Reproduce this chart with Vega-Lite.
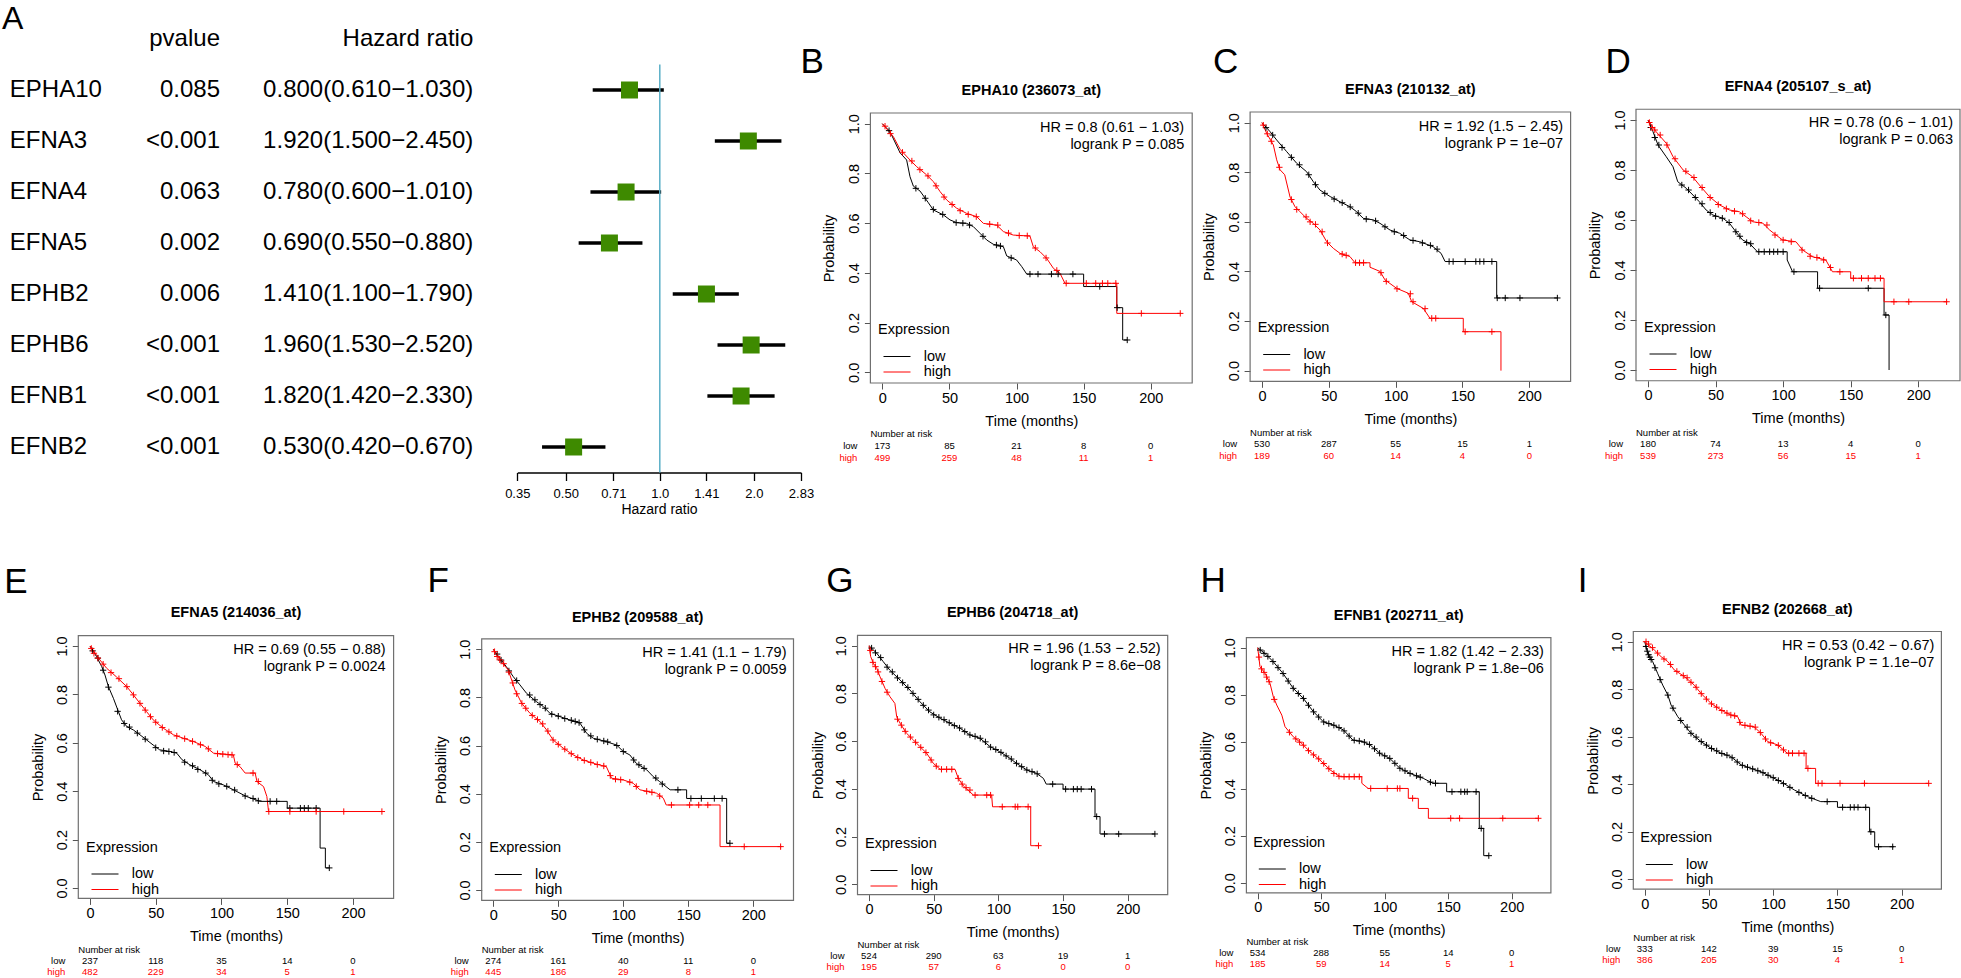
{
"$schema":"https://vega.github.io/schema/vega-lite/v6.json",
"width":1961,"height":978,"autosize":{"type":"none"},"padding":0,"background":"#ffffff",
"config":{
 "font":"Liberation Sans",
 "view":{"stroke":null},
 "axis":{"grid":false,"domain":false,"tickSize":6,"tickColor":"#555555","tickWidth":1,"labelFontSize":14.5,"titleFontSize":14.5,"titleFontWeight":"normal","labelColor":"#000000","titleColor":"#000000","labelPadding":2,"labelFlush":false,"labelOverlap":false,"labelFont":"Liberation Sans","titleFont":"Liberation Sans"},
 "legend":{"orient":"none","symbolType":"M-1.8,0H1.8","symbolSize":225,"symbolStrokeWidth":1,"symbolOffset":11,"labelOffset":18.7,"labelFontSize":14.5,"titleFontSize":14.5,"titleFontWeight":"normal","titleColor":"#000000","labelColor":"#000000","titlePadding":11,"rowPadding":0.5,"padding":0,"labelFont":"Liberation Sans","titleFont":"Liberation Sans"},
 "text":{"font":"Liberation Sans","color":"#000000"}
},
"datasets":{
 "forest":[
  {"gene":"EPHA10","pv":"0.085","ci":"0.800(0.610−1.030)","hr":0.8,"lo":0.61,"hi":1.03},
  {"gene":"EFNA3","pv":"<0.001","ci":"1.920(1.500−2.450)","hr":1.92,"lo":1.5,"hi":2.45},
  {"gene":"EFNA4","pv":"0.063","ci":"0.780(0.600−1.010)","hr":0.78,"lo":0.6,"hi":1.01},
  {"gene":"EFNA5","pv":"0.002","ci":"0.690(0.550−0.880)","hr":0.69,"lo":0.55,"hi":0.88},
  {"gene":"EPHB2","pv":"0.006","ci":"1.410(1.100−1.790)","hr":1.41,"lo":1.1,"hi":1.79},
  {"gene":"EPHB6","pv":"<0.001","ci":"1.960(1.530−2.520)","hr":1.96,"lo":1.53,"hi":2.52},
  {"gene":"EFNB1","pv":"<0.001","ci":"1.820(1.420−2.330)","hr":1.82,"lo":1.42,"hi":2.33},
  {"gene":"EFNB2","pv":"<0.001","ci":"0.530(0.420−0.670)","hr":0.53,"lo":0.42,"hi":0.67}
 ],
 "info":[
  {"p":"B","title":"EPHA10 (236073_at)","hl":["HR = 0.8 (0.61 − 1.03)","logrank P = 0.085"]},
  {"p":"C","title":"EFNA3 (210132_at)","hl":["HR = 1.92 (1.5 − 2.45)","logrank P = 1e−07"]},
  {"p":"D","title":"EFNA4 (205107_s_at)","hl":["HR = 0.78 (0.6 − 1.01)","logrank P = 0.063"]},
  {"p":"E","title":"EFNA5 (214036_at)","hl":["HR = 0.69 (0.55 − 0.88)","logrank P = 0.0024"]},
  {"p":"F","title":"EPHB2 (209588_at)","hl":["HR = 1.41 (1.1 − 1.79)","logrank P = 0.0059"]},
  {"p":"G","title":"EPHB6 (204718_at)","hl":["HR = 1.96 (1.53 − 2.52)","logrank P = 8.6e−08"]},
  {"p":"H","title":"EFNB1 (202711_at)","hl":["HR = 1.82 (1.42 − 2.33)","logrank P = 1.8e−06"]},
  {"p":"I","title":"EFNB2 (202668_at)","hl":["HR = 0.53 (0.42 − 0.67)","logrank P = 1.1e−07"]}
 ],
 "risk":[
  {"p":"B","g":"low","t":0,"n":173},{"p":"B","g":"low","t":50,"n":85},{"p":"B","g":"low","t":100,"n":21},{"p":"B","g":"low","t":150,"n":8},{"p":"B","g":"low","t":200,"n":0},
  {"p":"B","g":"high","t":0,"n":499},{"p":"B","g":"high","t":50,"n":259},{"p":"B","g":"high","t":100,"n":48},{"p":"B","g":"high","t":150,"n":11},{"p":"B","g":"high","t":200,"n":1},
  {"p":"C","g":"low","t":0,"n":530},{"p":"C","g":"low","t":50,"n":287},{"p":"C","g":"low","t":100,"n":55},{"p":"C","g":"low","t":150,"n":15},{"p":"C","g":"low","t":200,"n":1},
  {"p":"C","g":"high","t":0,"n":189},{"p":"C","g":"high","t":50,"n":60},{"p":"C","g":"high","t":100,"n":14},{"p":"C","g":"high","t":150,"n":4},{"p":"C","g":"high","t":200,"n":0},
  {"p":"D","g":"low","t":0,"n":180},{"p":"D","g":"low","t":50,"n":74},{"p":"D","g":"low","t":100,"n":13},{"p":"D","g":"low","t":150,"n":4},{"p":"D","g":"low","t":200,"n":0},
  {"p":"D","g":"high","t":0,"n":539},{"p":"D","g":"high","t":50,"n":273},{"p":"D","g":"high","t":100,"n":56},{"p":"D","g":"high","t":150,"n":15},{"p":"D","g":"high","t":200,"n":1},
  {"p":"E","g":"low","t":0,"n":237},{"p":"E","g":"low","t":50,"n":118},{"p":"E","g":"low","t":100,"n":35},{"p":"E","g":"low","t":150,"n":14},{"p":"E","g":"low","t":200,"n":0},
  {"p":"E","g":"high","t":0,"n":482},{"p":"E","g":"high","t":50,"n":229},{"p":"E","g":"high","t":100,"n":34},{"p":"E","g":"high","t":150,"n":5},{"p":"E","g":"high","t":200,"n":1},
  {"p":"F","g":"low","t":0,"n":274},{"p":"F","g":"low","t":50,"n":161},{"p":"F","g":"low","t":100,"n":40},{"p":"F","g":"low","t":150,"n":11},{"p":"F","g":"low","t":200,"n":0},
  {"p":"F","g":"high","t":0,"n":445},{"p":"F","g":"high","t":50,"n":186},{"p":"F","g":"high","t":100,"n":29},{"p":"F","g":"high","t":150,"n":8},{"p":"F","g":"high","t":200,"n":1},
  {"p":"G","g":"low","t":0,"n":524},{"p":"G","g":"low","t":50,"n":290},{"p":"G","g":"low","t":100,"n":63},{"p":"G","g":"low","t":150,"n":19},{"p":"G","g":"low","t":200,"n":1},
  {"p":"G","g":"high","t":0,"n":195},{"p":"G","g":"high","t":50,"n":57},{"p":"G","g":"high","t":100,"n":6},{"p":"G","g":"high","t":150,"n":0},{"p":"G","g":"high","t":200,"n":0},
  {"p":"H","g":"low","t":0,"n":534},{"p":"H","g":"low","t":50,"n":288},{"p":"H","g":"low","t":100,"n":55},{"p":"H","g":"low","t":150,"n":14},{"p":"H","g":"low","t":200,"n":0},
  {"p":"H","g":"high","t":0,"n":185},{"p":"H","g":"high","t":50,"n":59},{"p":"H","g":"high","t":100,"n":14},{"p":"H","g":"high","t":150,"n":5},{"p":"H","g":"high","t":200,"n":1},
  {"p":"I","g":"low","t":0,"n":333},{"p":"I","g":"low","t":50,"n":142},{"p":"I","g":"low","t":100,"n":39},{"p":"I","g":"low","t":150,"n":15},{"p":"I","g":"low","t":200,"n":0},
  {"p":"I","g":"high","t":0,"n":386},{"p":"I","g":"high","t":50,"n":205},{"p":"I","g":"high","t":100,"n":30},{"p":"I","g":"high","t":150,"n":4},{"p":"I","g":"high","t":200,"n":1}
 ],
 "km":[
  {"p":"B","g":"low","t":0,"s":1},{"p":"B","g":"low","t":5.7,"s":0.968},{"p":"B","g":"low","t":13.2,"s":0.883},{"p":"B","g":"low","t":18.1,"s":0.854},{"p":"B","g":"low","t":20.6,"s":0.787},{"p":"B","g":"low","t":23.1,"s":0.749},{"p":"B","g":"low","t":28.1,"s":0.729},{"p":"B","g":"low","t":34.3,"s":0.682},{"p":"B","g":"low","t":38,"s":0.653},{"p":"B","g":"low","t":45.5,"s":0.633},{"p":"B","g":"low","t":50.4,"s":0.613},{"p":"B","g":"low","t":55.4,"s":0.602},{"p":"B","g":"low","t":62.9,"s":0.599},{"p":"B","g":"low","t":67.8,"s":0.586},{"p":"B","g":"low","t":72.8,"s":0.559},{"p":"B","g":"low","t":77.8,"s":0.532},{"p":"B","g":"low","t":82.7,"s":0.515},{"p":"B","g":"low","t":90.2,"s":0.505},{"p":"B","g":"low","t":92.7,"s":0.468},{"p":"B","g":"low","t":100,"s":0.452},{"p":"B","g":"low","t":103.9,"s":0.425},{"p":"B","g":"low","t":107.6,"s":0.395},{"p":"B","g":"low","t":150,"s":0.395},{"p":"B","g":"low","t":150,"s":0.345},{"p":"B","g":"low","t":174.7,"s":0.345},{"p":"B","g":"low","t":174.7,"s":0.26},{"p":"B","g":"low","t":179.1,"s":0.26},{"p":"B","g":"low","t":179.1,"s":0.13},{"p":"B","g":"low","t":182.5,"s":0.13},
  {"p":"B","g":"high","t":0,"s":1},{"p":"B","g":"high","t":8.2,"s":0.948},{"p":"B","g":"high","t":13.2,"s":0.897},{"p":"B","g":"high","t":20.6,"s":0.854},{"p":"B","g":"high","t":25.6,"s":0.827},{"p":"B","g":"high","t":33,"s":0.794},{"p":"B","g":"high","t":38,"s":0.767},{"p":"B","g":"high","t":43,"s":0.727},{"p":"B","g":"high","t":48,"s":0.693},{"p":"B","g":"high","t":55.4,"s":0.66},{"p":"B","g":"high","t":62.9,"s":0.639},{"p":"B","g":"high","t":70.3,"s":0.626},{"p":"B","g":"high","t":75.3,"s":0.599},{"p":"B","g":"high","t":85.2,"s":0.592},{"p":"B","g":"high","t":90.2,"s":0.566},{"p":"B","g":"high","t":97.6,"s":0.552},{"p":"B","g":"high","t":110,"s":0.548},{"p":"B","g":"high","t":112.5,"s":0.505},{"p":"B","g":"high","t":117.5,"s":0.485},{"p":"B","g":"high","t":122.5,"s":0.458},{"p":"B","g":"high","t":127.5,"s":0.418},{"p":"B","g":"high","t":132.4,"s":0.398},{"p":"B","g":"high","t":136.1,"s":0.358},{"p":"B","g":"high","t":174.7,"s":0.358},{"p":"B","g":"high","t":174.7,"s":0.237},{"p":"B","g":"high","t":222,"s":0.237},
  {"p":"C","g":"low","t":0,"s":1},{"p":"C","g":"low","t":6,"s":0.964},{"p":"C","g":"low","t":11,"s":0.93},{"p":"C","g":"low","t":18.5,"s":0.883},{"p":"C","g":"low","t":26,"s":0.836},{"p":"C","g":"low","t":33.4,"s":0.802},{"p":"C","g":"low","t":38.4,"s":0.762},{"p":"C","g":"low","t":43.4,"s":0.728},{"p":"C","g":"low","t":51,"s":0.702},{"p":"C","g":"low","t":58.4,"s":0.681},{"p":"C","g":"low","t":65.8,"s":0.661},{"p":"C","g":"low","t":70.8,"s":0.641},{"p":"C","g":"low","t":75.8,"s":0.614},{"p":"C","g":"low","t":83.3,"s":0.608},{"p":"C","g":"low","t":88.3,"s":0.594},{"p":"C","g":"low","t":95.8,"s":0.567},{"p":"C","g":"low","t":103,"s":0.554},{"p":"C","g":"low","t":110.7,"s":0.527},{"p":"C","g":"low","t":118,"s":0.52},{"p":"C","g":"low","t":128,"s":0.5},{"p":"C","g":"low","t":134,"s":0.473},{"p":"C","g":"low","t":137,"s":0.44},{"p":"C","g":"low","t":175.6,"s":0.44},{"p":"C","g":"low","t":175.6,"s":0.293},{"p":"C","g":"low","t":221,"s":0.293},
  {"p":"C","g":"high","t":0,"s":1},{"p":"C","g":"high","t":3.5,"s":0.957},{"p":"C","g":"high","t":8.5,"s":0.91},{"p":"C","g":"high","t":11,"s":0.85},{"p":"C","g":"high","t":13.5,"s":0.81},{"p":"C","g":"high","t":17,"s":0.79},{"p":"C","g":"high","t":21,"s":0.7},{"p":"C","g":"high","t":24.7,"s":0.661},{"p":"C","g":"high","t":28.4,"s":0.641},{"p":"C","g":"high","t":33.4,"s":0.614},{"p":"C","g":"high","t":38.4,"s":0.594},{"p":"C","g":"high","t":43.4,"s":0.567},{"p":"C","g":"high","t":48.4,"s":0.52},{"p":"C","g":"high","t":53.4,"s":0.493},{"p":"C","g":"high","t":58.4,"s":0.473},{"p":"C","g":"high","t":65.8,"s":0.46},{"p":"C","g":"high","t":69.6,"s":0.435},{"p":"C","g":"high","t":80.8,"s":0.435},{"p":"C","g":"high","t":80.8,"s":0.417},{"p":"C","g":"high","t":88.3,"s":0.4},{"p":"C","g":"high","t":92,"s":0.366},{"p":"C","g":"high","t":100.7,"s":0.332},{"p":"C","g":"high","t":109.5,"s":0.312},{"p":"C","g":"high","t":112,"s":0.278},{"p":"C","g":"high","t":120.7,"s":0.251},{"p":"C","g":"high","t":125.7,"s":0.211},{"p":"C","g":"high","t":150.6,"s":0.211},{"p":"C","g":"high","t":150.6,"s":0.157},{"p":"C","g":"high","t":178.8,"s":0.157},{"p":"C","g":"high","t":178.8,"s":0},
  {"p":"D","g":"low","t":0,"s":1},{"p":"D","g":"low","t":3.7,"s":0.953},{"p":"D","g":"low","t":7.4,"s":0.9},{"p":"D","g":"low","t":13.5,"s":0.853},{"p":"D","g":"low","t":18.5,"s":0.813},{"p":"D","g":"low","t":22,"s":0.753},{"p":"D","g":"low","t":28.3,"s":0.727},{"p":"D","g":"low","t":33.2,"s":0.7},{"p":"D","g":"low","t":38,"s":0.673},{"p":"D","g":"low","t":43,"s":0.64},{"p":"D","g":"low","t":48,"s":0.62},{"p":"D","g":"low","t":55.4,"s":0.607},{"p":"D","g":"low","t":60.3,"s":0.587},{"p":"D","g":"low","t":65,"s":0.553},{"p":"D","g":"low","t":70,"s":0.52},{"p":"D","g":"low","t":75,"s":0.507},{"p":"D","g":"low","t":81,"s":0.473},{"p":"D","g":"low","t":103,"s":0.473},{"p":"D","g":"low","t":103,"s":0.44},{"p":"D","g":"low","t":107,"s":0.393},{"p":"D","g":"low","t":125.5,"s":0.393},{"p":"D","g":"low","t":125.5,"s":0.327},{"p":"D","g":"low","t":174.7,"s":0.327},{"p":"D","g":"low","t":174.7,"s":0.22},{"p":"D","g":"low","t":178.4,"s":0.22},{"p":"D","g":"low","t":178.4,"s":0},
  {"p":"D","g":"high","t":0,"s":1},{"p":"D","g":"high","t":6,"s":0.953},{"p":"D","g":"high","t":13.5,"s":0.907},{"p":"D","g":"high","t":18.5,"s":0.853},{"p":"D","g":"high","t":26,"s":0.8},{"p":"D","g":"high","t":33,"s":0.773},{"p":"D","g":"high","t":38,"s":0.74},{"p":"D","g":"high","t":45.5,"s":0.693},{"p":"D","g":"high","t":53,"s":0.66},{"p":"D","g":"high","t":60.3,"s":0.64},{"p":"D","g":"high","t":67.6,"s":0.633},{"p":"D","g":"high","t":72.6,"s":0.613},{"p":"D","g":"high","t":77.5,"s":0.593},{"p":"D","g":"high","t":85,"s":0.587},{"p":"D","g":"high","t":90,"s":0.56},{"p":"D","g":"high","t":94.7,"s":0.54},{"p":"D","g":"high","t":99.6,"s":0.52},{"p":"D","g":"high","t":109.5,"s":0.513},{"p":"D","g":"high","t":114.4,"s":0.48},{"p":"D","g":"high","t":121.8,"s":0.453},{"p":"D","g":"high","t":131.6,"s":0.44},{"p":"D","g":"high","t":136.5,"s":0.393},{"p":"D","g":"high","t":150,"s":0.393},{"p":"D","g":"high","t":150,"s":0.367},{"p":"D","g":"high","t":174.7,"s":0.367},{"p":"D","g":"high","t":174.7,"s":0.273},{"p":"D","g":"high","t":221.4,"s":0.273},
  {"p":"E","g":"low","t":0,"s":1},{"p":"E","g":"low","t":5,"s":0.956},{"p":"E","g":"low","t":8.9,"s":0.915},{"p":"E","g":"low","t":11.4,"s":0.88},{"p":"E","g":"low","t":14,"s":0.832},{"p":"E","g":"low","t":17.8,"s":0.784},{"p":"E","g":"low","t":21.6,"s":0.729},{"p":"E","g":"low","t":24,"s":0.695},{"p":"E","g":"low","t":28,"s":0.667},{"p":"E","g":"low","t":33,"s":0.653},{"p":"E","g":"low","t":38,"s":0.633},{"p":"E","g":"low","t":43,"s":0.612},{"p":"E","g":"low","t":48,"s":0.591},{"p":"E","g":"low","t":53,"s":0.571},{"p":"E","g":"low","t":61,"s":0.564},{"p":"E","g":"low","t":66,"s":0.557},{"p":"E","g":"low","t":70,"s":0.53},{"p":"E","g":"low","t":76,"s":0.509},{"p":"E","g":"low","t":83.8,"s":0.488},{"p":"E","g":"low","t":90,"s":0.468},{"p":"E","g":"low","t":94,"s":0.44},{"p":"E","g":"low","t":101.5,"s":0.426},{"p":"E","g":"low","t":109,"s":0.406},{"p":"E","g":"low","t":119,"s":0.378},{"p":"E","g":"low","t":129.4,"s":0.358},{"p":"E","g":"low","t":150,"s":0.358},{"p":"E","g":"low","t":150,"s":0.33},{"p":"E","g":"low","t":175,"s":0.33},{"p":"E","g":"low","t":175,"s":0.165},{"p":"E","g":"low","t":179,"s":0.165},{"p":"E","g":"low","t":179,"s":0.083},{"p":"E","g":"low","t":182,"s":0.083},
  {"p":"E","g":"high","t":0,"s":1},{"p":"E","g":"high","t":7.6,"s":0.942},{"p":"E","g":"high","t":12.7,"s":0.908},{"p":"E","g":"high","t":20,"s":0.873},{"p":"E","g":"high","t":28,"s":0.832},{"p":"E","g":"high","t":33,"s":0.798},{"p":"E","g":"high","t":38,"s":0.763},{"p":"E","g":"high","t":43,"s":0.729},{"p":"E","g":"high","t":48,"s":0.695},{"p":"E","g":"high","t":55.8,"s":0.66},{"p":"E","g":"high","t":63.5,"s":0.633},{"p":"E","g":"high","t":71,"s":0.619},{"p":"E","g":"high","t":78.7,"s":0.605},{"p":"E","g":"high","t":87.6,"s":0.585},{"p":"E","g":"high","t":94,"s":0.557},{"p":"E","g":"high","t":109,"s":0.55},{"p":"E","g":"high","t":110.4,"s":0.516},{"p":"E","g":"high","t":114,"s":0.502},{"p":"E","g":"high","t":118,"s":0.475},{"p":"E","g":"high","t":125.6,"s":0.475},{"p":"E","g":"high","t":127,"s":0.44},{"p":"E","g":"high","t":132,"s":0.419},{"p":"E","g":"high","t":134.5,"s":0.378},{"p":"E","g":"high","t":135.8,"s":0.316},{"p":"E","g":"high","t":222,"s":0.316},
  {"p":"F","g":"low","t":0,"s":1},{"p":"F","g":"low","t":5,"s":0.963},{"p":"F","g":"low","t":10,"s":0.928},{"p":"F","g":"low","t":15.4,"s":0.886},{"p":"F","g":"low","t":20.5,"s":0.852},{"p":"F","g":"low","t":25.6,"s":0.817},{"p":"F","g":"low","t":33,"s":0.783},{"p":"F","g":"low","t":38.5,"s":0.762},{"p":"F","g":"low","t":43.6,"s":0.734},{"p":"F","g":"low","t":51.3,"s":0.72},{"p":"F","g":"low","t":59,"s":0.706},{"p":"F","g":"low","t":66.7,"s":0.693},{"p":"F","g":"low","t":71.8,"s":0.651},{"p":"F","g":"low","t":77,"s":0.63},{"p":"F","g":"low","t":87,"s":0.616},{"p":"F","g":"low","t":94.9,"s":0.602},{"p":"F","g":"low","t":100,"s":0.575},{"p":"F","g":"low","t":105,"s":0.561},{"p":"F","g":"low","t":110,"s":0.526},{"p":"F","g":"low","t":118,"s":0.499},{"p":"F","g":"low","t":123,"s":0.471},{"p":"F","g":"low","t":128,"s":0.45},{"p":"F","g":"low","t":136,"s":0.416},{"p":"F","g":"low","t":148.7,"s":0.416},{"p":"F","g":"low","t":148.7,"s":0.38},{"p":"F","g":"low","t":179.5,"s":0.38},{"p":"F","g":"low","t":179.5,"s":0.194},{"p":"F","g":"low","t":182,"s":0.194},
  {"p":"F","g":"high","t":0,"s":1},{"p":"F","g":"high","t":5,"s":0.956},{"p":"F","g":"high","t":11.5,"s":0.914},{"p":"F","g":"high","t":16.7,"s":0.831},{"p":"F","g":"high","t":21.8,"s":0.776},{"p":"F","g":"high","t":28.2,"s":0.734},{"p":"F","g":"high","t":35.9,"s":0.7},{"p":"F","g":"high","t":41,"s":0.665},{"p":"F","g":"high","t":46,"s":0.623},{"p":"F","g":"high","t":53.8,"s":0.589},{"p":"F","g":"high","t":61.5,"s":0.561},{"p":"F","g":"high","t":69.2,"s":0.54},{"p":"F","g":"high","t":77,"s":0.526},{"p":"F","g":"high","t":87,"s":0.512},{"p":"F","g":"high","t":91,"s":0.464},{"p":"F","g":"high","t":100,"s":0.457},{"p":"F","g":"high","t":107.7,"s":0.443},{"p":"F","g":"high","t":112.8,"s":0.416},{"p":"F","g":"high","t":125.6,"s":0.402},{"p":"F","g":"high","t":130.8,"s":0.381},{"p":"F","g":"high","t":133,"s":0.353},{"p":"F","g":"high","t":174.4,"s":0.353},{"p":"F","g":"high","t":174.4,"s":0.18},{"p":"F","g":"high","t":221.8,"s":0.18},
  {"p":"G","g":"low","t":0,"s":1},{"p":"G","g":"low","t":6,"s":0.968},{"p":"G","g":"low","t":11,"s":0.933},{"p":"G","g":"low","t":16,"s":0.898},{"p":"G","g":"low","t":24,"s":0.856},{"p":"G","g":"low","t":31.7,"s":0.814},{"p":"G","g":"low","t":39.4,"s":0.765},{"p":"G","g":"low","t":47,"s":0.723},{"p":"G","g":"low","t":55,"s":0.696},{"p":"G","g":"low","t":62.6,"s":0.675},{"p":"G","g":"low","t":70.4,"s":0.654},{"p":"G","g":"low","t":78,"s":0.626},{"p":"G","g":"low","t":85.8,"s":0.612},{"p":"G","g":"low","t":93.6,"s":0.577},{"p":"G","g":"low","t":101,"s":0.556},{"p":"G","g":"low","t":109,"s":0.528},{"p":"G","g":"low","t":114,"s":0.507},{"p":"G","g":"low","t":122,"s":0.479},{"p":"G","g":"low","t":129.6,"s":0.465},{"p":"G","g":"low","t":134.8,"s":0.444},{"p":"G","g":"low","t":137,"s":0.42},{"p":"G","g":"low","t":150,"s":0.42},{"p":"G","g":"low","t":150,"s":0.399},{"p":"G","g":"low","t":174.7,"s":0.399},{"p":"G","g":"low","t":174.7,"s":0.284},{"p":"G","g":"low","t":178.6,"s":0.284},{"p":"G","g":"low","t":178.6,"s":0.211},{"p":"G","g":"low","t":221,"s":0.211},
  {"p":"G","g":"high","t":0,"s":1},{"p":"G","g":"high","t":1.3,"s":0.954},{"p":"G","g":"high","t":3.4,"s":0.926},{"p":"G","g":"high","t":6,"s":0.905},{"p":"G","g":"high","t":8.5,"s":0.87},{"p":"G","g":"high","t":12.4,"s":0.821},{"p":"G","g":"high","t":16.2,"s":0.786},{"p":"G","g":"high","t":20,"s":0.758},{"p":"G","g":"high","t":21.4,"s":0.702},{"p":"G","g":"high","t":24,"s":0.675},{"p":"G","g":"high","t":29,"s":0.633},{"p":"G","g":"high","t":34.3,"s":0.605},{"p":"G","g":"high","t":39.4,"s":0.577},{"p":"G","g":"high","t":44.6,"s":0.549},{"p":"G","g":"high","t":49.7,"s":0.507},{"p":"G","g":"high","t":55,"s":0.482},{"p":"G","g":"high","t":66.5,"s":0.482},{"p":"G","g":"high","t":69,"s":0.444},{"p":"G","g":"high","t":73,"s":0.412},{"p":"G","g":"high","t":80.7,"s":0.374},{"p":"G","g":"high","t":94.8,"s":0.374},{"p":"G","g":"high","t":95.5,"s":0.325},{"p":"G","g":"high","t":125,"s":0.325},{"p":"G","g":"high","t":125,"s":0.162},{"p":"G","g":"high","t":131,"s":0.162},
  {"p":"H","g":"low","t":0,"s":1},{"p":"H","g":"low","t":7,"s":0.969},{"p":"H","g":"low","t":12.3,"s":0.94},{"p":"H","g":"low","t":20,"s":0.89},{"p":"H","g":"low","t":28,"s":0.827},{"p":"H","g":"low","t":36,"s":0.784},{"p":"H","g":"low","t":43.8,"s":0.728},{"p":"H","g":"low","t":51.7,"s":0.685},{"p":"H","g":"low","t":59.6,"s":0.671},{"p":"H","g":"low","t":67.5,"s":0.65},{"p":"H","g":"low","t":75,"s":0.607},{"p":"H","g":"low","t":83,"s":0.6},{"p":"H","g":"low","t":88.5,"s":0.586},{"p":"H","g":"low","t":96.3,"s":0.55},{"p":"H","g":"low","t":104,"s":0.529},{"p":"H","g":"low","t":112,"s":0.487},{"p":"H","g":"low","t":120,"s":0.465},{"p":"H","g":"low","t":130.4,"s":0.444},{"p":"H","g":"low","t":138,"s":0.423},{"p":"H","g":"low","t":148.8,"s":0.423},{"p":"H","g":"low","t":148.8,"s":0.387},{"p":"H","g":"low","t":174.5,"s":0.387},{"p":"H","g":"low","t":174.5,"s":0.231},{"p":"H","g":"low","t":178,"s":0.231},{"p":"H","g":"low","t":178,"s":0.115},{"p":"H","g":"low","t":182,"s":0.115},
  {"p":"H","g":"high","t":0,"s":1},{"p":"H","g":"high","t":1.8,"s":0.919},{"p":"H","g":"high","t":5.8,"s":0.891},{"p":"H","g":"high","t":9.7,"s":0.848},{"p":"H","g":"high","t":12.3,"s":0.791},{"p":"H","g":"high","t":15,"s":0.756},{"p":"H","g":"high","t":19,"s":0.713},{"p":"H","g":"high","t":21.5,"s":0.664},{"p":"H","g":"high","t":28,"s":0.621},{"p":"H","g":"high","t":34.6,"s":0.593},{"p":"H","g":"high","t":41.2,"s":0.557},{"p":"H","g":"high","t":49,"s":0.522},{"p":"H","g":"high","t":57,"s":0.48},{"p":"H","g":"high","t":64.8,"s":0.451},{"p":"H","g":"high","t":82,"s":0.451},{"p":"H","g":"high","t":82,"s":0.423},{"p":"H","g":"high","t":87,"s":0.401},{"p":"H","g":"high","t":118.6,"s":0.401},{"p":"H","g":"high","t":118.6,"s":0.359},{"p":"H","g":"high","t":126.5,"s":0.359},{"p":"H","g":"high","t":126.5,"s":0.316},{"p":"H","g":"high","t":134.4,"s":0.316},{"p":"H","g":"high","t":134.4,"s":0.274},{"p":"H","g":"high","t":221,"s":0.274},
  {"p":"I","g":"low","t":0,"s":1},{"p":"I","g":"low","t":2.3,"s":0.951},{"p":"I","g":"low","t":6.2,"s":0.916},{"p":"I","g":"low","t":10,"s":0.867},{"p":"I","g":"low","t":14,"s":0.817},{"p":"I","g":"low","t":18,"s":0.775},{"p":"I","g":"low","t":20.5,"s":0.733},{"p":"I","g":"low","t":25.7,"s":0.684},{"p":"I","g":"low","t":30.9,"s":0.649},{"p":"I","g":"low","t":36,"s":0.614},{"p":"I","g":"low","t":43.8,"s":0.579},{"p":"I","g":"low","t":51.6,"s":0.551},{"p":"I","g":"low","t":59.4,"s":0.53},{"p":"I","g":"low","t":67,"s":0.516},{"p":"I","g":"low","t":75,"s":0.481},{"p":"I","g":"low","t":82.8,"s":0.466},{"p":"I","g":"low","t":90.5,"s":0.452},{"p":"I","g":"low","t":98.3,"s":0.431},{"p":"I","g":"low","t":106,"s":0.41},{"p":"I","g":"low","t":116.5,"s":0.375},{"p":"I","g":"low","t":126.8,"s":0.347},{"p":"I","g":"low","t":137,"s":0.326},{"p":"I","g":"low","t":150,"s":0.326},{"p":"I","g":"low","t":150,"s":0.302},{"p":"I","g":"low","t":175,"s":0.302},{"p":"I","g":"low","t":175,"s":0.199},{"p":"I","g":"low","t":179,"s":0.199},{"p":"I","g":"low","t":179,"s":0.136},{"p":"I","g":"low","t":194,"s":0.136},
  {"p":"I","g":"high","t":0,"s":1},{"p":"I","g":"high","t":7.5,"s":0.965},{"p":"I","g":"high","t":12.7,"s":0.937},{"p":"I","g":"high","t":18,"s":0.916},{"p":"I","g":"high","t":23,"s":0.881},{"p":"I","g":"high","t":31,"s":0.853},{"p":"I","g":"high","t":38.6,"s":0.817},{"p":"I","g":"high","t":43.8,"s":0.782},{"p":"I","g":"high","t":51.6,"s":0.74},{"p":"I","g":"high","t":59.4,"s":0.712},{"p":"I","g":"high","t":67,"s":0.691},{"p":"I","g":"high","t":72.4,"s":0.684},{"p":"I","g":"high","t":75,"s":0.649},{"p":"I","g":"high","t":85,"s":0.642},{"p":"I","g":"high","t":90.5,"s":0.614},{"p":"I","g":"high","t":95.7,"s":0.579},{"p":"I","g":"high","t":103.5,"s":0.565},{"p":"I","g":"high","t":111,"s":0.53},{"p":"I","g":"high","t":125.6,"s":0.53},{"p":"I","g":"high","t":125.6,"s":0.466},{"p":"I","g":"high","t":133,"s":0.466},{"p":"I","g":"high","t":133,"s":0.403},{"p":"I","g":"high","t":221,"s":0.403}
 ],
 "cens":[
  {"p":"B","g":"low","t":5,"s":0.972},{"p":"B","g":"low","t":25,"s":0.74},{"p":"B","g":"low","t":32,"s":0.7},{"p":"B","g":"low","t":38,"s":0.655},{"p":"B","g":"low","t":45,"s":0.635},{"p":"B","g":"low","t":55,"s":0.602},{"p":"B","g":"low","t":60,"s":0.6},{"p":"B","g":"low","t":65,"s":0.592},{"p":"B","g":"low","t":75,"s":0.547},{"p":"B","g":"low","t":85,"s":0.512},{"p":"B","g":"low","t":88,"s":0.508},{"p":"B","g":"low","t":96,"s":0.46},{"p":"B","g":"low","t":110,"s":0.395},{"p":"B","g":"low","t":116,"s":0.395},{"p":"B","g":"low","t":126,"s":0.395},{"p":"B","g":"low","t":131,"s":0.395},{"p":"B","g":"low","t":142,"s":0.395},{"p":"B","g":"low","t":162,"s":0.345},{"p":"B","g":"low","t":175,"s":0.26},{"p":"B","g":"low","t":182.5,"s":0.13},
  {"p":"B","g":"high","t":2,"s":0.99},{"p":"B","g":"high","t":6,"s":0.96},{"p":"B","g":"high","t":15,"s":0.885},{"p":"B","g":"high","t":22,"s":0.85},{"p":"B","g":"high","t":28,"s":0.815},{"p":"B","g":"high","t":34,"s":0.79},{"p":"B","g":"high","t":40,"s":0.75},{"p":"B","g":"high","t":46,"s":0.705},{"p":"B","g":"high","t":52,"s":0.675},{"p":"B","g":"high","t":58,"s":0.65},{"p":"B","g":"high","t":64,"s":0.635},{"p":"B","g":"high","t":70,"s":0.626},{"p":"B","g":"high","t":80,"s":0.596},{"p":"B","g":"high","t":86,"s":0.592},{"p":"B","g":"high","t":94,"s":0.56},{"p":"B","g":"high","t":102,"s":0.55},{"p":"B","g":"high","t":108,"s":0.549},{"p":"B","g":"high","t":114,"s":0.5},{"p":"B","g":"high","t":122,"s":0.46},{"p":"B","g":"high","t":130,"s":0.41},{"p":"B","g":"high","t":137,"s":0.358},{"p":"B","g":"high","t":152,"s":0.358},{"p":"B","g":"high","t":159,"s":0.358},{"p":"B","g":"high","t":164,"s":0.358},{"p":"B","g":"high","t":168,"s":0.358},{"p":"B","g":"high","t":174,"s":0.358},{"p":"B","g":"high","t":193,"s":0.237},{"p":"B","g":"high","t":222,"s":0.237},
  {"p":"C","g":"low","t":3,"s":0.98},{"p":"C","g":"low","t":8,"s":0.95},{"p":"C","g":"low","t":15,"s":0.9},{"p":"C","g":"low","t":22,"s":0.86},{"p":"C","g":"low","t":28,"s":0.83},{"p":"C","g":"low","t":35,"s":0.79},{"p":"C","g":"low","t":40,"s":0.75},{"p":"C","g":"low","t":47,"s":0.715},{"p":"C","g":"low","t":54,"s":0.692},{"p":"C","g":"low","t":60,"s":0.677},{"p":"C","g":"low","t":66,"s":0.66},{"p":"C","g":"low","t":72,"s":0.635},{"p":"C","g":"low","t":78,"s":0.611},{"p":"C","g":"low","t":85,"s":0.604},{"p":"C","g":"low","t":92,"s":0.58},{"p":"C","g":"low","t":99,"s":0.56},{"p":"C","g":"low","t":106,"s":0.545},{"p":"C","g":"low","t":113,"s":0.525},{"p":"C","g":"low","t":120,"s":0.515},{"p":"C","g":"low","t":126,"s":0.505},{"p":"C","g":"low","t":131,"s":0.49},{"p":"C","g":"low","t":140,"s":0.44},{"p":"C","g":"low","t":143,"s":0.44},{"p":"C","g":"low","t":152,"s":0.44},{"p":"C","g":"low","t":160,"s":0.44},{"p":"C","g":"low","t":163,"s":0.44},{"p":"C","g":"low","t":166,"s":0.44},{"p":"C","g":"low","t":172,"s":0.44},{"p":"C","g":"low","t":176,"s":0.293},{"p":"C","g":"low","t":182,"s":0.293},{"p":"C","g":"low","t":193,"s":0.293},{"p":"C","g":"low","t":221,"s":0.293},
  {"p":"C","g":"high","t":1,"s":0.99},{"p":"C","g":"high","t":4,"s":0.955},{"p":"C","g":"high","t":7,"s":0.925},{"p":"C","g":"high","t":13,"s":0.82},{"p":"C","g":"high","t":22,"s":0.69},{"p":"C","g":"high","t":26,"s":0.65},{"p":"C","g":"high","t":33,"s":0.62},{"p":"C","g":"high","t":36,"s":0.6},{"p":"C","g":"high","t":40,"s":0.59},{"p":"C","g":"high","t":45,"s":0.56},{"p":"C","g":"high","t":49,"s":0.515},{"p":"C","g":"high","t":60,"s":0.47},{"p":"C","g":"high","t":63,"s":0.465},{"p":"C","g":"high","t":70,"s":0.435},{"p":"C","g":"high","t":73,"s":0.435},{"p":"C","g":"high","t":76,"s":0.435},{"p":"C","g":"high","t":89,"s":0.395},{"p":"C","g":"high","t":93,"s":0.36},{"p":"C","g":"high","t":101,"s":0.33},{"p":"C","g":"high","t":111,"s":0.31},{"p":"C","g":"high","t":113,"s":0.278},{"p":"C","g":"high","t":122,"s":0.25},{"p":"C","g":"high","t":127,"s":0.211},{"p":"C","g":"high","t":130,"s":0.211},{"p":"C","g":"high","t":152,"s":0.157},{"p":"C","g":"high","t":172,"s":0.157},
  {"p":"D","g":"low","t":2,"s":0.97},{"p":"D","g":"low","t":5,"s":0.93},{"p":"D","g":"low","t":8,"s":0.9},{"p":"D","g":"low","t":25,"s":0.74},{"p":"D","g":"low","t":30,"s":0.72},{"p":"D","g":"low","t":35,"s":0.69},{"p":"D","g":"low","t":40,"s":0.665},{"p":"D","g":"low","t":46,"s":0.63},{"p":"D","g":"low","t":50,"s":0.615},{"p":"D","g":"low","t":55,"s":0.607},{"p":"D","g":"low","t":60,"s":0.59},{"p":"D","g":"low","t":65,"s":0.553},{"p":"D","g":"low","t":68,"s":0.535},{"p":"D","g":"low","t":73,"s":0.51},{"p":"D","g":"low","t":76,"s":0.505},{"p":"D","g":"low","t":82,"s":0.473},{"p":"D","g":"low","t":86,"s":0.473},{"p":"D","g":"low","t":90,"s":0.473},{"p":"D","g":"low","t":93,"s":0.473},{"p":"D","g":"low","t":96,"s":0.473},{"p":"D","g":"low","t":100,"s":0.473},{"p":"D","g":"low","t":108,"s":0.393},{"p":"D","g":"low","t":127,"s":0.327},{"p":"D","g":"low","t":163,"s":0.327},{"p":"D","g":"low","t":176,"s":0.22},
  {"p":"D","g":"high","t":1,"s":0.99},{"p":"D","g":"high","t":3,"s":0.97},{"p":"D","g":"high","t":5,"s":0.96},{"p":"D","g":"high","t":9,"s":0.94},{"p":"D","g":"high","t":14,"s":0.9},{"p":"D","g":"high","t":20,"s":0.845},{"p":"D","g":"high","t":28,"s":0.795},{"p":"D","g":"high","t":34,"s":0.77},{"p":"D","g":"high","t":40,"s":0.73},{"p":"D","g":"high","t":46,"s":0.69},{"p":"D","g":"high","t":52,"s":0.662},{"p":"D","g":"high","t":58,"s":0.645},{"p":"D","g":"high","t":64,"s":0.635},{"p":"D","g":"high","t":70,"s":0.625},{"p":"D","g":"high","t":76,"s":0.597},{"p":"D","g":"high","t":82,"s":0.59},{"p":"D","g":"high","t":88,"s":0.58},{"p":"D","g":"high","t":94,"s":0.54},{"p":"D","g":"high","t":100,"s":0.52},{"p":"D","g":"high","t":106,"s":0.513},{"p":"D","g":"high","t":114,"s":0.48},{"p":"D","g":"high","t":120,"s":0.455},{"p":"D","g":"high","t":125,"s":0.45},{"p":"D","g":"high","t":130,"s":0.44},{"p":"D","g":"high","t":135,"s":0.41},{"p":"D","g":"high","t":142,"s":0.393},{"p":"D","g":"high","t":152,"s":0.367},{"p":"D","g":"high","t":158,"s":0.367},{"p":"D","g":"high","t":163,"s":0.367},{"p":"D","g":"high","t":168,"s":0.367},{"p":"D","g":"high","t":172,"s":0.367},{"p":"D","g":"high","t":182,"s":0.273},{"p":"D","g":"high","t":193,"s":0.273},{"p":"D","g":"high","t":221,"s":0.273},
  {"p":"E","g":"low","t":2,"s":0.98},{"p":"E","g":"low","t":6,"s":0.95},{"p":"E","g":"low","t":10,"s":0.9},{"p":"E","g":"low","t":14,"s":0.83},{"p":"E","g":"low","t":21,"s":0.73},{"p":"E","g":"low","t":26,"s":0.68},{"p":"E","g":"low","t":30,"s":0.665},{"p":"E","g":"low","t":36,"s":0.64},{"p":"E","g":"low","t":42,"s":0.615},{"p":"E","g":"low","t":50,"s":0.58},{"p":"E","g":"low","t":56,"s":0.566},{"p":"E","g":"low","t":60,"s":0.564},{"p":"E","g":"low","t":64,"s":0.56},{"p":"E","g":"low","t":72,"s":0.52},{"p":"E","g":"low","t":78,"s":0.505},{"p":"E","g":"low","t":82,"s":0.49},{"p":"E","g":"low","t":88,"s":0.475},{"p":"E","g":"low","t":93,"s":0.445},{"p":"E","g":"low","t":98,"s":0.43},{"p":"E","g":"low","t":104,"s":0.42},{"p":"E","g":"low","t":110,"s":0.405},{"p":"E","g":"low","t":118,"s":0.38},{"p":"E","g":"low","t":124,"s":0.37},{"p":"E","g":"low","t":128,"s":0.36},{"p":"E","g":"low","t":137,"s":0.358},{"p":"E","g":"low","t":142,"s":0.358},{"p":"E","g":"low","t":152,"s":0.33},{"p":"E","g":"low","t":160,"s":0.33},{"p":"E","g":"low","t":163,"s":0.33},{"p":"E","g":"low","t":166,"s":0.33},{"p":"E","g":"low","t":172,"s":0.33},{"p":"E","g":"low","t":182,"s":0.083},
  {"p":"E","g":"high","t":1,"s":0.99},{"p":"E","g":"high","t":3,"s":0.97},{"p":"E","g":"high","t":6,"s":0.95},{"p":"E","g":"high","t":10,"s":0.925},{"p":"E","g":"high","t":16,"s":0.89},{"p":"E","g":"high","t":22,"s":0.865},{"p":"E","g":"high","t":28,"s":0.832},{"p":"E","g":"high","t":33,"s":0.798},{"p":"E","g":"high","t":38,"s":0.763},{"p":"E","g":"high","t":42,"s":0.735},{"p":"E","g":"high","t":46,"s":0.708},{"p":"E","g":"high","t":50,"s":0.685},{"p":"E","g":"high","t":55,"s":0.663},{"p":"E","g":"high","t":60,"s":0.645},{"p":"E","g":"high","t":66,"s":0.628},{"p":"E","g":"high","t":72,"s":0.617},{"p":"E","g":"high","t":78,"s":0.606},{"p":"E","g":"high","t":84,"s":0.592},{"p":"E","g":"high","t":90,"s":0.575},{"p":"E","g":"high","t":97,"s":0.555},{"p":"E","g":"high","t":101,"s":0.553},{"p":"E","g":"high","t":105,"s":0.551},{"p":"E","g":"high","t":108,"s":0.55},{"p":"E","g":"high","t":112,"s":0.51},{"p":"E","g":"high","t":124,"s":0.475},{"p":"E","g":"high","t":128,"s":0.44},{"p":"E","g":"high","t":136,"s":0.316},{"p":"E","g":"high","t":152,"s":0.316},{"p":"E","g":"high","t":172,"s":0.316},{"p":"E","g":"high","t":193,"s":0.316},{"p":"E","g":"high","t":222,"s":0.316},
  {"p":"F","g":"low","t":3,"s":0.98},{"p":"F","g":"low","t":6,"s":0.955},{"p":"F","g":"low","t":12,"s":0.91},{"p":"F","g":"low","t":18,"s":0.87},{"p":"F","g":"low","t":28,"s":0.81},{"p":"F","g":"low","t":32,"s":0.79},{"p":"F","g":"low","t":36,"s":0.77},{"p":"F","g":"low","t":40,"s":0.755},{"p":"F","g":"low","t":45,"s":0.73},{"p":"F","g":"low","t":50,"s":0.722},{"p":"F","g":"low","t":55,"s":0.712},{"p":"F","g":"low","t":60,"s":0.705},{"p":"F","g":"low","t":63,"s":0.7},{"p":"F","g":"low","t":66,"s":0.695},{"p":"F","g":"low","t":70,"s":0.665},{"p":"F","g":"low","t":75,"s":0.64},{"p":"F","g":"low","t":80,"s":0.626},{"p":"F","g":"low","t":85,"s":0.619},{"p":"F","g":"low","t":88,"s":0.615},{"p":"F","g":"low","t":95,"s":0.6},{"p":"F","g":"low","t":100,"s":0.575},{"p":"F","g":"low","t":108,"s":0.54},{"p":"F","g":"low","t":112,"s":0.52},{"p":"F","g":"low","t":116,"s":0.505},{"p":"F","g":"low","t":125,"s":0.465},{"p":"F","g":"low","t":130,"s":0.44},{"p":"F","g":"low","t":142,"s":0.416},{"p":"F","g":"low","t":152,"s":0.38},{"p":"F","g":"low","t":160,"s":0.38},{"p":"F","g":"low","t":170,"s":0.38},{"p":"F","g":"low","t":176,"s":0.38},{"p":"F","g":"low","t":182,"s":0.194},
  {"p":"F","g":"high","t":1,"s":0.99},{"p":"F","g":"high","t":3,"s":0.97},{"p":"F","g":"high","t":5,"s":0.956},{"p":"F","g":"high","t":8,"s":0.94},{"p":"F","g":"high","t":12,"s":0.905},{"p":"F","g":"high","t":15,"s":0.86},{"p":"F","g":"high","t":18,"s":0.815},{"p":"F","g":"high","t":22,"s":0.775},{"p":"F","g":"high","t":25,"s":0.755},{"p":"F","g":"high","t":30,"s":0.725},{"p":"F","g":"high","t":34,"s":0.708},{"p":"F","g":"high","t":38,"s":0.69},{"p":"F","g":"high","t":42,"s":0.66},{"p":"F","g":"high","t":46,"s":0.623},{"p":"F","g":"high","t":50,"s":0.605},{"p":"F","g":"high","t":55,"s":0.585},{"p":"F","g":"high","t":60,"s":0.566},{"p":"F","g":"high","t":65,"s":0.55},{"p":"F","g":"high","t":70,"s":0.538},{"p":"F","g":"high","t":75,"s":0.53},{"p":"F","g":"high","t":80,"s":0.521},{"p":"F","g":"high","t":85,"s":0.515},{"p":"F","g":"high","t":90,"s":0.475},{"p":"F","g":"high","t":94,"s":0.46},{"p":"F","g":"high","t":98,"s":0.458},{"p":"F","g":"high","t":105,"s":0.448},{"p":"F","g":"high","t":110,"s":0.43},{"p":"F","g":"high","t":118,"s":0.41},{"p":"F","g":"high","t":122,"s":0.406},{"p":"F","g":"high","t":128,"s":0.39},{"p":"F","g":"high","t":137,"s":0.353},{"p":"F","g":"high","t":151,"s":0.353},{"p":"F","g":"high","t":158,"s":0.353},{"p":"F","g":"high","t":165,"s":0.353},{"p":"F","g":"high","t":193,"s":0.18},{"p":"F","g":"high","t":221,"s":0.18},
  {"p":"G","g":"low","t":2,"s":0.99},{"p":"G","g":"low","t":5,"s":0.97},{"p":"G","g":"low","t":9,"s":0.95},{"p":"G","g":"low","t":14,"s":0.91},{"p":"G","g":"low","t":18,"s":0.89},{"p":"G","g":"low","t":22,"s":0.865},{"p":"G","g":"low","t":26,"s":0.845},{"p":"G","g":"low","t":30,"s":0.825},{"p":"G","g":"low","t":34,"s":0.8},{"p":"G","g":"low","t":38,"s":0.775},{"p":"G","g":"low","t":42,"s":0.75},{"p":"G","g":"low","t":46,"s":0.73},{"p":"G","g":"low","t":50,"s":0.71},{"p":"G","g":"low","t":54,"s":0.7},{"p":"G","g":"low","t":58,"s":0.69},{"p":"G","g":"low","t":62,"s":0.677},{"p":"G","g":"low","t":66,"s":0.665},{"p":"G","g":"low","t":70,"s":0.655},{"p":"G","g":"low","t":74,"s":0.64},{"p":"G","g":"low","t":78,"s":0.626},{"p":"G","g":"low","t":82,"s":0.62},{"p":"G","g":"low","t":86,"s":0.612},{"p":"G","g":"low","t":90,"s":0.597},{"p":"G","g":"low","t":94,"s":0.575},{"p":"G","g":"low","t":98,"s":0.565},{"p":"G","g":"low","t":102,"s":0.553},{"p":"G","g":"low","t":106,"s":0.538},{"p":"G","g":"low","t":110,"s":0.525},{"p":"G","g":"low","t":114,"s":0.507},{"p":"G","g":"low","t":118,"s":0.493},{"p":"G","g":"low","t":122,"s":0.479},{"p":"G","g":"low","t":126,"s":0.472},{"p":"G","g":"low","t":130,"s":0.463},{"p":"G","g":"low","t":142,"s":0.42},{"p":"G","g":"low","t":152,"s":0.399},{"p":"G","g":"low","t":158,"s":0.399},{"p":"G","g":"low","t":161,"s":0.399},{"p":"G","g":"low","t":164,"s":0.399},{"p":"G","g":"low","t":172,"s":0.399},{"p":"G","g":"low","t":176,"s":0.284},{"p":"G","g":"low","t":182,"s":0.211},{"p":"G","g":"low","t":193,"s":0.211},{"p":"G","g":"low","t":221,"s":0.211},
  {"p":"G","g":"high","t":1,"s":0.98},{"p":"G","g":"high","t":3,"s":0.93},{"p":"G","g":"high","t":5,"s":0.912},{"p":"G","g":"high","t":7,"s":0.89},{"p":"G","g":"high","t":10,"s":0.85},{"p":"G","g":"high","t":14,"s":0.805},{"p":"G","g":"high","t":22,"s":0.692},{"p":"G","g":"high","t":25,"s":0.667},{"p":"G","g":"high","t":28,"s":0.641},{"p":"G","g":"high","t":32,"s":0.617},{"p":"G","g":"high","t":36,"s":0.595},{"p":"G","g":"high","t":40,"s":0.574},{"p":"G","g":"high","t":44,"s":0.552},{"p":"G","g":"high","t":48,"s":0.521},{"p":"G","g":"high","t":52,"s":0.495},{"p":"G","g":"high","t":56,"s":0.482},{"p":"G","g":"high","t":60,"s":0.482},{"p":"G","g":"high","t":64,"s":0.482},{"p":"G","g":"high","t":69,"s":0.444},{"p":"G","g":"high","t":72,"s":0.42},{"p":"G","g":"high","t":75,"s":0.405},{"p":"G","g":"high","t":78,"s":0.395},{"p":"G","g":"high","t":82,"s":0.374},{"p":"G","g":"high","t":91,"s":0.374},{"p":"G","g":"high","t":94,"s":0.374},{"p":"G","g":"high","t":103,"s":0.325},{"p":"G","g":"high","t":113,"s":0.325},{"p":"G","g":"high","t":115,"s":0.325},{"p":"G","g":"high","t":123,"s":0.325},{"p":"G","g":"high","t":131,"s":0.162},
  {"p":"H","g":"low","t":2,"s":0.99},{"p":"H","g":"low","t":5,"s":0.976},{"p":"H","g":"low","t":8,"s":0.963},{"p":"H","g":"low","t":12,"s":0.941},{"p":"H","g":"low","t":16,"s":0.915},{"p":"H","g":"low","t":20,"s":0.89},{"p":"H","g":"low","t":24,"s":0.858},{"p":"H","g":"low","t":28,"s":0.827},{"p":"H","g":"low","t":32,"s":0.805},{"p":"H","g":"low","t":36,"s":0.784},{"p":"H","g":"low","t":40,"s":0.755},{"p":"H","g":"low","t":44,"s":0.727},{"p":"H","g":"low","t":48,"s":0.705},{"p":"H","g":"low","t":52,"s":0.684},{"p":"H","g":"low","t":56,"s":0.677},{"p":"H","g":"low","t":60,"s":0.67},{"p":"H","g":"low","t":64,"s":0.66},{"p":"H","g":"low","t":68,"s":0.646},{"p":"H","g":"low","t":72,"s":0.624},{"p":"H","g":"low","t":76,"s":0.606},{"p":"H","g":"low","t":80,"s":0.603},{"p":"H","g":"low","t":84,"s":0.598},{"p":"H","g":"low","t":88,"s":0.588},{"p":"H","g":"low","t":92,"s":0.57},{"p":"H","g":"low","t":96,"s":0.551},{"p":"H","g":"low","t":100,"s":0.54},{"p":"H","g":"low","t":104,"s":0.529},{"p":"H","g":"low","t":108,"s":0.508},{"p":"H","g":"low","t":112,"s":0.487},{"p":"H","g":"low","t":116,"s":0.476},{"p":"H","g":"low","t":120,"s":0.465},{"p":"H","g":"low","t":125,"s":0.455},{"p":"H","g":"low","t":128,"s":0.449},{"p":"H","g":"low","t":136,"s":0.428},{"p":"H","g":"low","t":140,"s":0.423},{"p":"H","g":"low","t":153,"s":0.387},{"p":"H","g":"low","t":160,"s":0.387},{"p":"H","g":"low","t":163,"s":0.387},{"p":"H","g":"low","t":165,"s":0.387},{"p":"H","g":"low","t":172,"s":0.387},{"p":"H","g":"low","t":176,"s":0.231},{"p":"H","g":"low","t":182,"s":0.115},
  {"p":"H","g":"high","t":1,"s":0.96},{"p":"H","g":"high","t":3,"s":0.91},{"p":"H","g":"high","t":5,"s":0.895},{"p":"H","g":"high","t":7,"s":0.875},{"p":"H","g":"high","t":9,"s":0.855},{"p":"H","g":"high","t":13,"s":0.78},{"p":"H","g":"high","t":25,"s":0.64},{"p":"H","g":"high","t":30,"s":0.612},{"p":"H","g":"high","t":33,"s":0.598},{"p":"H","g":"high","t":36,"s":0.585},{"p":"H","g":"high","t":40,"s":0.562},{"p":"H","g":"high","t":44,"s":0.544},{"p":"H","g":"high","t":48,"s":0.527},{"p":"H","g":"high","t":52,"s":0.507},{"p":"H","g":"high","t":56,"s":0.485},{"p":"H","g":"high","t":60,"s":0.465},{"p":"H","g":"high","t":64,"s":0.453},{"p":"H","g":"high","t":68,"s":0.451},{"p":"H","g":"high","t":72,"s":0.451},{"p":"H","g":"high","t":76,"s":0.451},{"p":"H","g":"high","t":80,"s":0.451},{"p":"H","g":"high","t":89,"s":0.401},{"p":"H","g":"high","t":102,"s":0.401},{"p":"H","g":"high","t":110,"s":0.401},{"p":"H","g":"high","t":112,"s":0.401},{"p":"H","g":"high","t":122,"s":0.359},{"p":"H","g":"high","t":152,"s":0.274},{"p":"H","g":"high","t":159,"s":0.274},{"p":"H","g":"high","t":193,"s":0.274},{"p":"H","g":"high","t":221,"s":0.274},
  {"p":"I","g":"low","t":1,"s":0.98},{"p":"I","g":"low","t":2,"s":0.96},{"p":"I","g":"low","t":3,"s":0.945},{"p":"I","g":"low","t":4,"s":0.935},{"p":"I","g":"low","t":5,"s":0.925},{"p":"I","g":"low","t":8,"s":0.89},{"p":"I","g":"low","t":12,"s":0.84},{"p":"I","g":"low","t":18,"s":0.775},{"p":"I","g":"low","t":22,"s":0.72},{"p":"I","g":"low","t":28,"s":0.668},{"p":"I","g":"low","t":33,"s":0.64},{"p":"I","g":"low","t":36,"s":0.614},{"p":"I","g":"low","t":40,"s":0.598},{"p":"I","g":"low","t":44,"s":0.579},{"p":"I","g":"low","t":48,"s":0.564},{"p":"I","g":"low","t":52,"s":0.55},{"p":"I","g":"low","t":56,"s":0.54},{"p":"I","g":"low","t":60,"s":0.529},{"p":"I","g":"low","t":64,"s":0.522},{"p":"I","g":"low","t":68,"s":0.511},{"p":"I","g":"low","t":72,"s":0.493},{"p":"I","g":"low","t":76,"s":0.479},{"p":"I","g":"low","t":80,"s":0.471},{"p":"I","g":"low","t":84,"s":0.464},{"p":"I","g":"low","t":88,"s":0.456},{"p":"I","g":"low","t":92,"s":0.448},{"p":"I","g":"low","t":96,"s":0.437},{"p":"I","g":"low","t":100,"s":0.427},{"p":"I","g":"low","t":104,"s":0.415},{"p":"I","g":"low","t":108,"s":0.402},{"p":"I","g":"low","t":113,"s":0.386},{"p":"I","g":"low","t":120,"s":0.365},{"p":"I","g":"low","t":125,"s":0.352},{"p":"I","g":"low","t":130,"s":0.34},{"p":"I","g":"low","t":142,"s":0.326},{"p":"I","g":"low","t":154,"s":0.302},{"p":"I","g":"low","t":160,"s":0.302},{"p":"I","g":"low","t":163,"s":0.302},{"p":"I","g":"low","t":166,"s":0.302},{"p":"I","g":"low","t":172,"s":0.302},{"p":"I","g":"low","t":176,"s":0.199},{"p":"I","g":"low","t":182,"s":0.136},{"p":"I","g":"low","t":193,"s":0.136},
  {"p":"I","g":"high","t":1,"s":1},{"p":"I","g":"high","t":3,"s":0.99},{"p":"I","g":"high","t":6,"s":0.975},{"p":"I","g":"high","t":10,"s":0.952},{"p":"I","g":"high","t":15,"s":0.927},{"p":"I","g":"high","t":20,"s":0.904},{"p":"I","g":"high","t":25,"s":0.875},{"p":"I","g":"high","t":30,"s":0.857},{"p":"I","g":"high","t":33,"s":0.848},{"p":"I","g":"high","t":36,"s":0.829},{"p":"I","g":"high","t":40,"s":0.808},{"p":"I","g":"high","t":44,"s":0.781},{"p":"I","g":"high","t":48,"s":0.758},{"p":"I","g":"high","t":52,"s":0.738},{"p":"I","g":"high","t":56,"s":0.724},{"p":"I","g":"high","t":60,"s":0.71},{"p":"I","g":"high","t":64,"s":0.699},{"p":"I","g":"high","t":67,"s":0.691},{"p":"I","g":"high","t":70,"s":0.688},{"p":"I","g":"high","t":74,"s":0.66},{"p":"I","g":"high","t":78,"s":0.648},{"p":"I","g":"high","t":82,"s":0.644},{"p":"I","g":"high","t":86,"s":0.64},{"p":"I","g":"high","t":90,"s":0.617},{"p":"I","g":"high","t":94,"s":0.59},{"p":"I","g":"high","t":98,"s":0.574},{"p":"I","g":"high","t":104,"s":0.563},{"p":"I","g":"high","t":108,"s":0.544},{"p":"I","g":"high","t":112,"s":0.53},{"p":"I","g":"high","t":115,"s":0.53},{"p":"I","g":"high","t":120,"s":0.53},{"p":"I","g":"high","t":124,"s":0.53},{"p":"I","g":"high","t":127,"s":0.466},{"p":"I","g":"high","t":135,"s":0.403},{"p":"I","g":"high","t":138,"s":0.403},{"p":"I","g":"high","t":152,"s":0.403},{"p":"I","g":"high","t":171,"s":0.403},{"p":"I","g":"high","t":221,"s":0.403}
 ]
},
"layer":[
 {"layer":[
  {"data":{"name":"forest"},"mark":{"type":"rule","strokeWidth":3.3,"color":"#000000"},
   "encoding":{
    "x":{"field":"lo","type":"quantitative","scale":{"type":"log","domain":[0.35,2.83],"range":[517.3,801],"nice":false},
     "axis":{"orient":"bottom","offset":-505.5,"values":[0.35,0.5,0.71,1,1.41,2,2.83],"labelExpr":"datum.value == 1 ? '1.0' : datum.value == 2 ? '2.0' : format(datum.value, '.2f')","domain":true,"domainColor":"#000000","domainWidth":1.3,"tickSize":8,"tickColor":"#000000","tickWidth":1.3,"labelFontSize":13,"labelPadding":7,"title":"Hazard ratio","titleFontSize":14,"titleX":659,"titleY":37,"titleAlign":"center","titleBaseline":"middle"}},
    "x2":{"field":"hi"},
    "y":{"field":"gene","type":"nominal","scale":{"type":"band","domain":["hdr","EPHA10","EFNA3","EFNA4","EFNA5","EPHB2","EPHB6","EFNB1","EFNB2"],"range":[13.5,472.5],"paddingInner":0,"paddingOuter":0},"axis":null}}},
  {"data":{"values":[{}]},"mark":{"type":"rule","color":"#5AAFC7","strokeWidth":1.5,"yOffset":-25.5,"y2Offset":25.5},
   "encoding":{"x":{"datum":1,"type":"quantitative"},"y":{"datum":"EPHA10","type":"nominal"},"y2":{"datum":"EFNB2"}}},
  {"data":{"name":"forest"},"mark":{"type":"square","size":289,"color":"#3E8A00","opacity":1,"filled":true},
   "encoding":{"x":{"field":"hr","type":"quantitative"},"y":{"field":"gene","type":"nominal"}}},
  {"data":{"name":"forest"},"mark":{"type":"text","fontSize":24,"align":"left","baseline":"middle","dx":-507.5},
   "encoding":{"x":{"datum":0.35,"type":"quantitative"},"y":{"field":"gene","type":"nominal"},"text":{"field":"gene"}}},
  {"data":{"name":"forest"},"mark":{"type":"text","fontSize":24,"align":"right","baseline":"middle","dx":-297.3},
   "encoding":{"x":{"datum":0.35,"type":"quantitative"},"y":{"field":"gene","type":"nominal"},"text":{"field":"pv"}}},
  {"data":{"name":"forest"},"mark":{"type":"text","fontSize":24,"align":"right","baseline":"middle","dx":-44},
   "encoding":{"x":{"datum":0.35,"type":"quantitative"},"y":{"field":"gene","type":"nominal"},"text":{"field":"ci"}}},
  {"data":{"values":[{"gene":"hdr"}]},"mark":{"type":"text","fontSize":24,"align":"right","baseline":"middle","dx":-297.3},
   "encoding":{"x":{"datum":0.35,"type":"quantitative"},"y":{"field":"gene","type":"nominal"},"text":{"value":"pvalue"}}},
  {"data":{"values":[{"gene":"hdr"}]},"mark":{"type":"text","fontSize":24,"align":"right","baseline":"middle","dx":-44},
   "encoding":{"x":{"datum":0.35,"type":"quantitative"},"y":{"field":"gene","type":"nominal"},"text":{"value":"Hazard ratio"}}},
  {"data":{"values":[{"gene":"hdr"}]},"mark":{"type":"text","fontSize":32,"align":"left","baseline":"alphabetic","dx":-515.3,"dy":-10},
   "encoding":{"x":{"datum":0.35,"type":"quantitative"},"y":{"field":"gene","type":"nominal"},"text":{"value":"A"}}}
 ]},
 {"layer":[
  {"layer":[
   {"data":{"values":[{}]},"mark":{"type":"rect","fill":null,"stroke":"#707070","strokeWidth":1.2},"encoding":{"x":{"datum":-8.9,"type":"quantitative"},"x2":{"datum":230.9},"y":{"datum":-0.043,"type":"quantitative"},"y2":{"datum":1.043}}},
   {"data":{"name":"km"},"transform":[{"filter":"datum.p=='B'"}],"mark":{"type":"line","strokeWidth":1},"encoding":{
     "x":{"field":"t","type":"quantitative","scale":{"domain":[-8.9,230.9],"range":[870.4,1192.2],"nice":false,"zero":false},"axis":{"orient":"bottom","offset":-595,"values":[0,50,100,150,200],"title":"Time (months)","titleX":1031.3,"titleY":38,"titleAlign":"center","titleBaseline":"middle"}},
     "y":{"field":"s","type":"quantitative","scale":{"domain":[-0.043,1.043],"range":[383,113],"nice":false,"zero":false},"axis":{"orient":"left","offset":-870.4,"values":[0,0.2,0.4,0.6,0.8,1],"format":".1f","labelAngle":270,"labelAlign":"center","labelBaseline":"bottom","labelPadding":3,"title":"Probability","titleAngle":270,"titleX":-41,"titleY":248,"titleAlign":"center","titleBaseline":"middle"}},
     "color":{"field":"g","type":"nominal","scale":{"domain":["low","high"],"range":["#000000","#ff0000"]},"legend":{"title":"Expression","orient":"none","legendX":878,"legendY":323}},
     "order":{"value":null}}},
   {"data":{"name":"cens"},"transform":[{"filter":"datum.p=='B'"}],"mark":{"type":"point","shape":"M-1,0H1M0,-1V1","size":40,"strokeWidth":1,"filled":false,"opacity":1},"encoding":{"x":{"field":"t","type":"quantitative"},"y":{"field":"s","type":"quantitative"},"color":{"field":"g","type":"nominal"}}},
   {"data":{"name":"info"},"transform":[{"filter":"datum.p=='B'"}],"mark":{"type":"text","fontWeight":"bold","fontSize":14.5,"align":"center","baseline":"middle","dy":-22},"encoding":{"x":{"datum":111,"type":"quantitative"},"y":{"datum":1.043,"type":"quantitative"},"text":{"field":"title"}}},
   {"data":{"name":"info"},"transform":[{"filter":"datum.p=='B'"}],"mark":{"type":"text","fontSize":35,"align":"left","baseline":"alphabetic","dx":-70,"dy":-40},"encoding":{"x":{"datum":-8.9,"type":"quantitative"},"y":{"datum":1.043,"type":"quantitative"},"text":{"field":"p"}}},
   {"data":{"name":"info"},"transform":[{"filter":"datum.p=='B'"}],"mark":{"type":"text","fontSize":14.5,"align":"right","baseline":"top","lineHeight":17,"dx":-8,"dy":8},"encoding":{"x":{"datum":230.9,"type":"quantitative"},"y":{"datum":1.043,"type":"quantitative"},"text":{"field":"hl"}}}
  ]},
  {"layer":[
   {"data":{"values":[{"g":"hdr"}]},"mark":{"type":"text","fontSize":9.5,"align":"left","baseline":"middle"},"encoding":{"x":{"datum":-8.9,"type":"quantitative"},"y":{"field":"g","type":"nominal","scale":{"type":"point","domain":["hdr","low","high"],"range":[434.3,457.7],"padding":0},"axis":null},"text":{"value":"Number at risk"}}},
   {"data":{"values":[{"g":"low"},{"g":"high"}]},"mark":{"type":"text","fontSize":9.5,"align":"right","baseline":"middle","dx":-13},"encoding":{"x":{"datum":-8.9,"type":"quantitative"},"y":{"field":"g","type":"nominal"},"text":{"field":"g"},"color":{"condition":{"test":"datum.g=='high'","value":"#ff0000"},"value":"#000000"}}},
   {"data":{"name":"risk"},"transform":[{"filter":"datum.p=='B'"}],"mark":{"type":"text","fontSize":9.5,"align":"center","baseline":"middle"},"encoding":{"x":{"field":"t","type":"quantitative"},"y":{"field":"g","type":"nominal"},"text":{"field":"n"},"color":{"condition":{"test":"datum.g=='high'","value":"#ff0000"},"value":"#000000"}}}
  ]}
 ],"resolve":{"scale":{"y":"independent"},"axis":{"y":"independent"}}},
 {"layer":[
  {"layer":[
   {"data":{"values":[{}]},"mark":{"type":"rect","fill":null,"stroke":"#707070","strokeWidth":1.2},"encoding":{"x":{"datum":-8.9,"type":"quantitative"},"x2":{"datum":230.9},"y":{"datum":-0.043,"type":"quantitative"},"y2":{"datum":1.043}}},
   {"data":{"name":"km"},"transform":[{"filter":"datum.p=='C'"}],"mark":{"type":"line","strokeWidth":1},"encoding":{
     "x":{"field":"t","type":"quantitative","scale":{"domain":[-8.9,230.9],"range":[1250.1,1570.6],"nice":false,"zero":false},"axis":{"orient":"bottom","offset":-596.7,"values":[0,50,100,150,200],"title":"Time (months)","titleX":1410.4,"titleY":38,"titleAlign":"center","titleBaseline":"middle"}},
     "y":{"field":"s","type":"quantitative","scale":{"domain":[-0.043,1.043],"range":[381.3,112],"nice":false,"zero":false},"axis":{"orient":"left","offset":-1250.1,"values":[0,0.2,0.4,0.6,0.8,1],"format":".1f","labelAngle":270,"labelAlign":"center","labelBaseline":"bottom","labelPadding":3,"title":"Probability","titleAngle":270,"titleX":-41,"titleY":246.7,"titleAlign":"center","titleBaseline":"middle"}},
     "color":{"field":"g","type":"nominal","scale":{"domain":["low","high"],"range":["#000000","#ff0000"]},"legend":{"title":"Expression","orient":"none","legendX":1257.7,"legendY":321}},
     "order":{"value":null}}},
   {"data":{"name":"cens"},"transform":[{"filter":"datum.p=='C'"}],"mark":{"type":"point","shape":"M-1,0H1M0,-1V1","size":40,"strokeWidth":1,"filled":false,"opacity":1},"encoding":{"x":{"field":"t","type":"quantitative"},"y":{"field":"s","type":"quantitative"},"color":{"field":"g","type":"nominal"}}},
   {"data":{"name":"info"},"transform":[{"filter":"datum.p=='C'"}],"mark":{"type":"text","fontWeight":"bold","fontSize":14.5,"align":"center","baseline":"middle","dy":-22.5},"encoding":{"x":{"datum":111,"type":"quantitative"},"y":{"datum":1.043,"type":"quantitative"},"text":{"field":"title"}}},
   {"data":{"name":"info"},"transform":[{"filter":"datum.p=='C'"}],"mark":{"type":"text","fontSize":35,"align":"left","baseline":"alphabetic","dx":-37,"dy":-39},"encoding":{"x":{"datum":-8.9,"type":"quantitative"},"y":{"datum":1.043,"type":"quantitative"},"text":{"field":"p"}}},
   {"data":{"name":"info"},"transform":[{"filter":"datum.p=='C'"}],"mark":{"type":"text","fontSize":14.5,"align":"right","baseline":"top","lineHeight":17,"dx":-7.5,"dy":8},"encoding":{"x":{"datum":230.9,"type":"quantitative"},"y":{"datum":1.043,"type":"quantitative"},"text":{"field":"hl"}}}
  ]},
  {"layer":[
   {"data":{"values":[{"g":"hdr"}]},"mark":{"type":"text","fontSize":9.5,"align":"left","baseline":"middle"},"encoding":{"x":{"datum":-8.9,"type":"quantitative"},"y":{"field":"g","type":"nominal","scale":{"type":"point","domain":["hdr","low","high"],"range":[432.7,455.7],"padding":0},"axis":null},"text":{"value":"Number at risk"}}},
   {"data":{"values":[{"g":"low"},{"g":"high"}]},"mark":{"type":"text","fontSize":9.5,"align":"right","baseline":"middle","dx":-13},"encoding":{"x":{"datum":-8.9,"type":"quantitative"},"y":{"field":"g","type":"nominal"},"text":{"field":"g"},"color":{"condition":{"test":"datum.g=='high'","value":"#ff0000"},"value":"#000000"}}},
   {"data":{"name":"risk"},"transform":[{"filter":"datum.p=='C'"}],"mark":{"type":"text","fontSize":9.5,"align":"center","baseline":"middle"},"encoding":{"x":{"field":"t","type":"quantitative"},"y":{"field":"g","type":"nominal"},"text":{"field":"n"},"color":{"condition":{"test":"datum.g=='high'","value":"#ff0000"},"value":"#000000"}}}
  ]}
 ],"resolve":{"scale":{"y":"independent"},"axis":{"y":"independent"}}},
 {"layer":[
  {"layer":[
   {"data":{"values":[{}]},"mark":{"type":"rect","fill":null,"stroke":"#707070","strokeWidth":1.2},"encoding":{"x":{"datum":-8.9,"type":"quantitative"},"x2":{"datum":230.9},"y":{"datum":-0.043,"type":"quantitative"},"y2":{"datum":1.043}}},
   {"data":{"name":"km"},"transform":[{"filter":"datum.p=='D'"}],"mark":{"type":"line","strokeWidth":1},"encoding":{
     "x":{"field":"t","type":"quantitative","scale":{"domain":[-8.9,230.9],"range":[1636,1960],"nice":false,"zero":false},"axis":{"orient":"bottom","offset":-597.25,"values":[0,50,100,150,200],"title":"Time (months)","titleX":1798,"titleY":38,"titleAlign":"center","titleBaseline":"middle"}},
     "y":{"field":"s","type":"quantitative","scale":{"domain":[-0.043,1.043],"range":[380.75,109.25],"nice":false,"zero":false},"axis":{"orient":"left","offset":-1636,"values":[0,0.2,0.4,0.6,0.8,1],"format":".1f","labelAngle":270,"labelAlign":"center","labelBaseline":"bottom","labelPadding":3,"title":"Probability","titleAngle":270,"titleX":-41,"titleY":245,"titleAlign":"center","titleBaseline":"middle"}},
     "color":{"field":"g","type":"nominal","scale":{"domain":["low","high"],"range":["#000000","#ff0000"]},"legend":{"title":"Expression","orient":"none","legendX":1644,"legendY":320.5}},
     "order":{"value":null}}},
   {"data":{"name":"cens"},"transform":[{"filter":"datum.p=='D'"}],"mark":{"type":"point","shape":"M-1,0H1M0,-1V1","size":40,"strokeWidth":1,"filled":false,"opacity":1},"encoding":{"x":{"field":"t","type":"quantitative"},"y":{"field":"s","type":"quantitative"},"color":{"field":"g","type":"nominal"}}},
   {"data":{"name":"info"},"transform":[{"filter":"datum.p=='D'"}],"mark":{"type":"text","fontWeight":"bold","fontSize":14.5,"align":"center","baseline":"middle","dy":-22.5},"encoding":{"x":{"datum":111,"type":"quantitative"},"y":{"datum":1.043,"type":"quantitative"},"text":{"field":"title"}}},
   {"data":{"name":"info"},"transform":[{"filter":"datum.p=='D'"}],"mark":{"type":"text","fontSize":35,"align":"left","baseline":"alphabetic","dx":-30.6,"dy":-36.3},"encoding":{"x":{"datum":-8.9,"type":"quantitative"},"y":{"datum":1.043,"type":"quantitative"},"text":{"field":"p"}}},
   {"data":{"name":"info"},"transform":[{"filter":"datum.p=='D'"}],"mark":{"type":"text","fontSize":14.5,"align":"right","baseline":"top","lineHeight":17,"dx":-7,"dy":7},"encoding":{"x":{"datum":230.9,"type":"quantitative"},"y":{"datum":1.043,"type":"quantitative"},"text":{"field":"hl"}}}
  ]},
  {"layer":[
   {"data":{"values":[{"g":"hdr"}]},"mark":{"type":"text","fontSize":9.5,"align":"left","baseline":"middle"},"encoding":{"x":{"datum":-8.9,"type":"quantitative"},"y":{"field":"g","type":"nominal","scale":{"type":"point","domain":["hdr","low","high"],"range":[432.7,455.7],"padding":0},"axis":null},"text":{"value":"Number at risk"}}},
   {"data":{"values":[{"g":"low"},{"g":"high"}]},"mark":{"type":"text","fontSize":9.5,"align":"right","baseline":"middle","dx":-13},"encoding":{"x":{"datum":-8.9,"type":"quantitative"},"y":{"field":"g","type":"nominal"},"text":{"field":"g"},"color":{"condition":{"test":"datum.g=='high'","value":"#ff0000"},"value":"#000000"}}},
   {"data":{"name":"risk"},"transform":[{"filter":"datum.p=='D'"}],"mark":{"type":"text","fontSize":9.5,"align":"center","baseline":"middle"},"encoding":{"x":{"field":"t","type":"quantitative"},"y":{"field":"g","type":"nominal"},"text":{"field":"n"},"color":{"condition":{"test":"datum.g=='high'","value":"#ff0000"},"value":"#000000"}}}
  ]}
 ],"resolve":{"scale":{"y":"independent"},"axis":{"y":"independent"}}},
 {"layer":[
  {"layer":[
   {"data":{"values":[{}]},"mark":{"type":"rect","fill":null,"stroke":"#707070","strokeWidth":1.2},"encoding":{"x":{"datum":-8.9,"type":"quantitative"},"x2":{"datum":230.9},"y":{"datum":-0.043,"type":"quantitative"},"y2":{"datum":1.043}}},
   {"data":{"name":"km"},"transform":[{"filter":"datum.p=='E'"}],"mark":{"type":"line","strokeWidth":1},"encoding":{
     "x":{"field":"t","type":"quantitative","scale":{"domain":[-8.9,230.9],"range":[78.3,393.6],"nice":false,"zero":false},"axis":{"orient":"bottom","offset":-79.6,"values":[0,50,100,150,200],"title":"Time (months)","titleX":236,"titleY":38.3,"titleAlign":"center","titleBaseline":"middle"}},
     "y":{"field":"s","type":"quantitative","scale":{"domain":[-0.043,1.043],"range":[898.4,635.6],"nice":false,"zero":false},"axis":{"orient":"left","offset":-78.3,"values":[0,0.2,0.4,0.6,0.8,1],"format":".1f","labelAngle":270,"labelAlign":"center","labelBaseline":"bottom","labelPadding":3,"title":"Probability","titleAngle":270,"titleX":-40,"titleY":767,"titleAlign":"center","titleBaseline":"middle"}},
     "color":{"field":"g","type":"nominal","scale":{"domain":["low","high"],"range":["#000000","#ff0000"]},"legend":{"title":"Expression","orient":"none","legendX":86,"legendY":840.5}},
     "order":{"value":null}}},
   {"data":{"name":"cens"},"transform":[{"filter":"datum.p=='E'"}],"mark":{"type":"point","shape":"M-1,0H1M0,-1V1","size":40,"strokeWidth":1,"filled":false,"opacity":1},"encoding":{"x":{"field":"t","type":"quantitative"},"y":{"field":"s","type":"quantitative"},"color":{"field":"g","type":"nominal"}}},
   {"data":{"name":"info"},"transform":[{"filter":"datum.p=='E'"}],"mark":{"type":"text","fontWeight":"bold","fontSize":14.5,"align":"center","baseline":"middle","dy":-22.3},"encoding":{"x":{"datum":111,"type":"quantitative"},"y":{"datum":1.043,"type":"quantitative"},"text":{"field":"title"}}},
   {"data":{"name":"info"},"transform":[{"filter":"datum.p=='E'"}],"mark":{"type":"text","fontSize":35,"align":"left","baseline":"alphabetic","dx":-74,"dy":-42.5},"encoding":{"x":{"datum":-8.9,"type":"quantitative"},"y":{"datum":1.043,"type":"quantitative"},"text":{"field":"p"}}},
   {"data":{"name":"info"},"transform":[{"filter":"datum.p=='E'"}],"mark":{"type":"text","fontSize":14.5,"align":"right","baseline":"top","lineHeight":17,"dx":-8,"dy":7},"encoding":{"x":{"datum":230.9,"type":"quantitative"},"y":{"datum":1.043,"type":"quantitative"},"text":{"field":"hl"}}}
  ]},
  {"layer":[
   {"data":{"values":[{"g":"hdr"}]},"mark":{"type":"text","fontSize":9.5,"align":"left","baseline":"middle"},"encoding":{"x":{"datum":-8.9,"type":"quantitative"},"y":{"field":"g","type":"nominal","scale":{"type":"point","domain":["hdr","low","high"],"range":[950,971.7],"padding":0},"axis":null},"text":{"value":"Number at risk"}}},
   {"data":{"values":[{"g":"low"},{"g":"high"}]},"mark":{"type":"text","fontSize":9.5,"align":"right","baseline":"middle","dx":-13},"encoding":{"x":{"datum":-8.9,"type":"quantitative"},"y":{"field":"g","type":"nominal"},"text":{"field":"g"},"color":{"condition":{"test":"datum.g=='high'","value":"#ff0000"},"value":"#000000"}}},
   {"data":{"name":"risk"},"transform":[{"filter":"datum.p=='E'"}],"mark":{"type":"text","fontSize":9.5,"align":"center","baseline":"middle"},"encoding":{"x":{"field":"t","type":"quantitative"},"y":{"field":"g","type":"nominal"},"text":{"field":"n"},"color":{"condition":{"test":"datum.g=='high'","value":"#ff0000"},"value":"#000000"}}}
  ]}
 ],"resolve":{"scale":{"y":"independent"},"axis":{"y":"independent"}}},
 {"layer":[
  {"layer":[
   {"data":{"values":[{}]},"mark":{"type":"rect","fill":null,"stroke":"#707070","strokeWidth":1.2},"encoding":{"x":{"datum":-8.9,"type":"quantitative"},"x2":{"datum":230.9},"y":{"datum":-0.043,"type":"quantitative"},"y2":{"datum":1.043}}},
   {"data":{"name":"km"},"transform":[{"filter":"datum.p=='F'"}],"mark":{"type":"line","strokeWidth":1},"encoding":{
     "x":{"field":"t","type":"quantitative","scale":{"domain":[-8.9,230.9],"range":[481.7,793.5],"nice":false,"zero":false},"axis":{"orient":"bottom","offset":-77.7,"values":[0,50,100,150,200],"title":"Time (months)","titleX":637.6,"titleY":38,"titleAlign":"center","titleBaseline":"middle"}},
     "y":{"field":"s","type":"quantitative","scale":{"domain":[-0.043,1.043],"range":[900.3,638.9],"nice":false,"zero":false},"axis":{"orient":"left","offset":-481.7,"values":[0,0.2,0.4,0.6,0.8,1],"format":".1f","labelAngle":270,"labelAlign":"center","labelBaseline":"bottom","labelPadding":3,"title":"Probability","titleAngle":270,"titleX":-40,"titleY":769.6,"titleAlign":"center","titleBaseline":"middle"}},
     "color":{"field":"g","type":"nominal","scale":{"domain":["low","high"],"range":["#000000","#ff0000"]},"legend":{"title":"Expression","orient":"none","legendX":489.3,"legendY":841}},
     "order":{"value":null}}},
   {"data":{"name":"cens"},"transform":[{"filter":"datum.p=='F'"}],"mark":{"type":"point","shape":"M-1,0H1M0,-1V1","size":40,"strokeWidth":1,"filled":false,"opacity":1},"encoding":{"x":{"field":"t","type":"quantitative"},"y":{"field":"s","type":"quantitative"},"color":{"field":"g","type":"nominal"}}},
   {"data":{"name":"info"},"transform":[{"filter":"datum.p=='F'"}],"mark":{"type":"text","fontWeight":"bold","fontSize":14.5,"align":"center","baseline":"middle","dy":-21.2},"encoding":{"x":{"datum":111,"type":"quantitative"},"y":{"datum":1.043,"type":"quantitative"},"text":{"field":"title"}}},
   {"data":{"name":"info"},"transform":[{"filter":"datum.p=='F'"}],"mark":{"type":"text","fontSize":35,"align":"left","baseline":"alphabetic","dx":-54.3,"dy":-47},"encoding":{"x":{"datum":-8.9,"type":"quantitative"},"y":{"datum":1.043,"type":"quantitative"},"text":{"field":"p"}}},
   {"data":{"name":"info"},"transform":[{"filter":"datum.p=='F'"}],"mark":{"type":"text","fontSize":14.5,"align":"right","baseline":"top","lineHeight":17,"dx":-7,"dy":7},"encoding":{"x":{"datum":230.9,"type":"quantitative"},"y":{"datum":1.043,"type":"quantitative"},"text":{"field":"hl"}}}
  ]},
  {"layer":[
   {"data":{"values":[{"g":"hdr"}]},"mark":{"type":"text","fontSize":9.5,"align":"left","baseline":"middle"},"encoding":{"x":{"datum":-8.9,"type":"quantitative"},"y":{"field":"g","type":"nominal","scale":{"type":"point","domain":["hdr","low","high"],"range":[950,971.7],"padding":0},"axis":null},"text":{"value":"Number at risk"}}},
   {"data":{"values":[{"g":"low"},{"g":"high"}]},"mark":{"type":"text","fontSize":9.5,"align":"right","baseline":"middle","dx":-13},"encoding":{"x":{"datum":-8.9,"type":"quantitative"},"y":{"field":"g","type":"nominal"},"text":{"field":"g"},"color":{"condition":{"test":"datum.g=='high'","value":"#ff0000"},"value":"#000000"}}},
   {"data":{"name":"risk"},"transform":[{"filter":"datum.p=='F'"}],"mark":{"type":"text","fontSize":9.5,"align":"center","baseline":"middle"},"encoding":{"x":{"field":"t","type":"quantitative"},"y":{"field":"g","type":"nominal"},"text":{"field":"n"},"color":{"condition":{"test":"datum.g=='high'","value":"#ff0000"},"value":"#000000"}}}
  ]}
 ],"resolve":{"scale":{"y":"independent"},"axis":{"y":"independent"}}},
 {"layer":[
  {"layer":[
   {"data":{"values":[{}]},"mark":{"type":"rect","fill":null,"stroke":"#707070","strokeWidth":1.2},"encoding":{"x":{"datum":-8.9,"type":"quantitative"},"x2":{"datum":230.9},"y":{"datum":-0.043,"type":"quantitative"},"y2":{"datum":1.043}}},
   {"data":{"name":"km"},"transform":[{"filter":"datum.p=='G'"}],"mark":{"type":"line","strokeWidth":1},"encoding":{
     "x":{"field":"t","type":"quantitative","scale":{"domain":[-8.9,230.9],"range":[857.5,1167.7],"nice":false,"zero":false},"axis":{"orient":"bottom","offset":-83.4,"values":[0,50,100,150,200],"title":"Time (months)","titleX":1012.6,"titleY":38,"titleAlign":"center","titleBaseline":"middle"}},
     "y":{"field":"s","type":"quantitative","scale":{"domain":[-0.043,1.043],"range":[894.6,635.4],"nice":false,"zero":false},"axis":{"orient":"left","offset":-857.5,"values":[0,0.2,0.4,0.6,0.8,1],"format":".1f","labelAngle":270,"labelAlign":"center","labelBaseline":"bottom","labelPadding":3,"title":"Probability","titleAngle":270,"titleX":-39.5,"titleY":765,"titleAlign":"center","titleBaseline":"middle"}},
     "color":{"field":"g","type":"nominal","scale":{"domain":["low","high"],"range":["#000000","#ff0000"]},"legend":{"title":"Expression","orient":"none","legendX":865,"legendY":837}},
     "order":{"value":null}}},
   {"data":{"name":"cens"},"transform":[{"filter":"datum.p=='G'"}],"mark":{"type":"point","shape":"M-1,0H1M0,-1V1","size":40,"strokeWidth":1,"filled":false,"opacity":1},"encoding":{"x":{"field":"t","type":"quantitative"},"y":{"field":"s","type":"quantitative"},"color":{"field":"g","type":"nominal"}}},
   {"data":{"name":"info"},"transform":[{"filter":"datum.p=='G'"}],"mark":{"type":"text","fontWeight":"bold","fontSize":14.5,"align":"center","baseline":"middle","dy":-22},"encoding":{"x":{"datum":111,"type":"quantitative"},"y":{"datum":1.043,"type":"quantitative"},"text":{"field":"title"}}},
   {"data":{"name":"info"},"transform":[{"filter":"datum.p=='G'"}],"mark":{"type":"text","fontSize":35,"align":"left","baseline":"alphabetic","dx":-31.2,"dy":-43.4},"encoding":{"x":{"datum":-8.9,"type":"quantitative"},"y":{"datum":1.043,"type":"quantitative"},"text":{"field":"p"}}},
   {"data":{"name":"info"},"transform":[{"filter":"datum.p=='G'"}],"mark":{"type":"text","fontSize":14.5,"align":"right","baseline":"top","lineHeight":17,"dx":-7,"dy":7},"encoding":{"x":{"datum":230.9,"type":"quantitative"},"y":{"datum":1.043,"type":"quantitative"},"text":{"field":"hl"}}}
  ]},
  {"layer":[
   {"data":{"values":[{"g":"hdr"}]},"mark":{"type":"text","fontSize":9.5,"align":"left","baseline":"middle"},"encoding":{"x":{"datum":-8.9,"type":"quantitative"},"y":{"field":"g","type":"nominal","scale":{"type":"point","domain":["hdr","low","high"],"range":[945,966.7],"padding":0},"axis":null},"text":{"value":"Number at risk"}}},
   {"data":{"values":[{"g":"low"},{"g":"high"}]},"mark":{"type":"text","fontSize":9.5,"align":"right","baseline":"middle","dx":-13},"encoding":{"x":{"datum":-8.9,"type":"quantitative"},"y":{"field":"g","type":"nominal"},"text":{"field":"g"},"color":{"condition":{"test":"datum.g=='high'","value":"#ff0000"},"value":"#000000"}}},
   {"data":{"name":"risk"},"transform":[{"filter":"datum.p=='G'"}],"mark":{"type":"text","fontSize":9.5,"align":"center","baseline":"middle"},"encoding":{"x":{"field":"t","type":"quantitative"},"y":{"field":"g","type":"nominal"},"text":{"field":"n"},"color":{"condition":{"test":"datum.g=='high'","value":"#ff0000"},"value":"#000000"}}}
  ]}
 ],"resolve":{"scale":{"y":"independent"},"axis":{"y":"independent"}}},
 {"layer":[
  {"layer":[
   {"data":{"values":[{}]},"mark":{"type":"rect","fill":null,"stroke":"#707070","strokeWidth":1.2},"encoding":{"x":{"datum":-8.9,"type":"quantitative"},"x2":{"datum":230.9},"y":{"datum":-0.043,"type":"quantitative"},"y2":{"datum":1.043}}},
   {"data":{"name":"km"},"transform":[{"filter":"datum.p=='H'"}],"mark":{"type":"line","strokeWidth":1},"encoding":{
     "x":{"field":"t","type":"quantitative","scale":{"domain":[-8.9,230.9],"range":[1246.4,1550.9],"nice":false,"zero":false},"axis":{"orient":"bottom","offset":-85.2,"values":[0,50,100,150,200],"title":"Time (months)","titleX":1398.7,"titleY":38,"titleAlign":"center","titleBaseline":"middle"}},
     "y":{"field":"s","type":"quantitative","scale":{"domain":[-0.043,1.043],"range":[892.8,637.6],"nice":false,"zero":false},"axis":{"orient":"left","offset":-1246.4,"values":[0,0.2,0.4,0.6,0.8,1],"format":".1f","labelAngle":270,"labelAlign":"center","labelBaseline":"bottom","labelPadding":3,"title":"Probability","titleAngle":270,"titleX":-39.5,"titleY":765.2,"titleAlign":"center","titleBaseline":"middle"}},
     "color":{"field":"g","type":"nominal","scale":{"domain":["low","high"],"range":["#000000","#ff0000"]},"legend":{"title":"Expression","orient":"none","legendX":1253.3,"legendY":835.5}},
     "order":{"value":null}}},
   {"data":{"name":"cens"},"transform":[{"filter":"datum.p=='H'"}],"mark":{"type":"point","shape":"M-1,0H1M0,-1V1","size":40,"strokeWidth":1,"filled":false,"opacity":1},"encoding":{"x":{"field":"t","type":"quantitative"},"y":{"field":"s","type":"quantitative"},"color":{"field":"g","type":"nominal"}}},
   {"data":{"name":"info"},"transform":[{"filter":"datum.p=='H'"}],"mark":{"type":"text","fontWeight":"bold","fontSize":14.5,"align":"center","baseline":"middle","dy":-21.6},"encoding":{"x":{"datum":111,"type":"quantitative"},"y":{"datum":1.043,"type":"quantitative"},"text":{"field":"title"}}},
   {"data":{"name":"info"},"transform":[{"filter":"datum.p=='H'"}],"mark":{"type":"text","fontSize":35,"align":"left","baseline":"alphabetic","dx":-46,"dy":-45.6},"encoding":{"x":{"datum":-8.9,"type":"quantitative"},"y":{"datum":1.043,"type":"quantitative"},"text":{"field":"p"}}},
   {"data":{"name":"info"},"transform":[{"filter":"datum.p=='H'"}],"mark":{"type":"text","fontSize":14.5,"align":"right","baseline":"top","lineHeight":17,"dx":-7,"dy":7},"encoding":{"x":{"datum":230.9,"type":"quantitative"},"y":{"datum":1.043,"type":"quantitative"},"text":{"field":"hl"}}}
  ]},
  {"layer":[
   {"data":{"values":[{"g":"hdr"}]},"mark":{"type":"text","fontSize":9.5,"align":"left","baseline":"middle"},"encoding":{"x":{"datum":-8.9,"type":"quantitative"},"y":{"field":"g","type":"nominal","scale":{"type":"point","domain":["hdr","low","high"],"range":[942.3,964],"padding":0},"axis":null},"text":{"value":"Number at risk"}}},
   {"data":{"values":[{"g":"low"},{"g":"high"}]},"mark":{"type":"text","fontSize":9.5,"align":"right","baseline":"middle","dx":-13},"encoding":{"x":{"datum":-8.9,"type":"quantitative"},"y":{"field":"g","type":"nominal"},"text":{"field":"g"},"color":{"condition":{"test":"datum.g=='high'","value":"#ff0000"},"value":"#000000"}}},
   {"data":{"name":"risk"},"transform":[{"filter":"datum.p=='H'"}],"mark":{"type":"text","fontSize":9.5,"align":"center","baseline":"middle"},"encoding":{"x":{"field":"t","type":"quantitative"},"y":{"field":"g","type":"nominal"},"text":{"field":"n"},"color":{"condition":{"test":"datum.g=='high'","value":"#ff0000"},"value":"#000000"}}}
  ]}
 ],"resolve":{"scale":{"y":"independent"},"axis":{"y":"independent"}}},
 {"layer":[
  {"layer":[
   {"data":{"values":[{}]},"mark":{"type":"rect","fill":null,"stroke":"#707070","strokeWidth":1.2},"encoding":{"x":{"datum":-8.9,"type":"quantitative"},"x2":{"datum":230.9},"y":{"datum":-0.043,"type":"quantitative"},"y2":{"datum":1.043}}},
   {"data":{"name":"km"},"transform":[{"filter":"datum.p=='I'"}],"mark":{"type":"line","strokeWidth":1},"encoding":{
     "x":{"field":"t","type":"quantitative","scale":{"domain":[-8.9,230.9],"range":[1633.3,1941.4],"nice":false,"zero":false},"axis":{"orient":"bottom","offset":-88.8,"values":[0,50,100,150,200],"title":"Time (months)","titleX":1787.4,"titleY":38,"titleAlign":"center","titleBaseline":"middle"}},
     "y":{"field":"s","type":"quantitative","scale":{"domain":[-0.043,1.043],"range":[889.2,631.5],"nice":false,"zero":false},"axis":{"orient":"left","offset":-1633.3,"values":[0,0.2,0.4,0.6,0.8,1],"format":".1f","labelAngle":270,"labelAlign":"center","labelBaseline":"bottom","labelPadding":3,"title":"Probability","titleAngle":270,"titleX":-39.5,"titleY":760.4,"titleAlign":"center","titleBaseline":"middle"}},
     "color":{"field":"g","type":"nominal","scale":{"domain":["low","high"],"range":["#000000","#ff0000"]},"legend":{"title":"Expression","orient":"none","legendX":1640.3,"legendY":831}},
     "order":{"value":null}}},
   {"data":{"name":"cens"},"transform":[{"filter":"datum.p=='I'"}],"mark":{"type":"point","shape":"M-1,0H1M0,-1V1","size":40,"strokeWidth":1,"filled":false,"opacity":1},"encoding":{"x":{"field":"t","type":"quantitative"},"y":{"field":"s","type":"quantitative"},"color":{"field":"g","type":"nominal"}}},
   {"data":{"name":"info"},"transform":[{"filter":"datum.p=='I'"}],"mark":{"type":"text","fontWeight":"bold","fontSize":14.5,"align":"center","baseline":"middle","dy":-21.5},"encoding":{"x":{"datum":111,"type":"quantitative"},"y":{"datum":1.043,"type":"quantitative"},"text":{"field":"title"}}},
   {"data":{"name":"info"},"transform":[{"filter":"datum.p=='I'"}],"mark":{"type":"text","fontSize":35,"align":"left","baseline":"alphabetic","dx":-55.5,"dy":-39.5},"encoding":{"x":{"datum":-8.9,"type":"quantitative"},"y":{"datum":1.043,"type":"quantitative"},"text":{"field":"p"}}},
   {"data":{"name":"info"},"transform":[{"filter":"datum.p=='I'"}],"mark":{"type":"text","fontSize":14.5,"align":"right","baseline":"top","lineHeight":17,"dx":-7,"dy":7},"encoding":{"x":{"datum":230.9,"type":"quantitative"},"y":{"datum":1.043,"type":"quantitative"},"text":{"field":"hl"}}}
  ]},
  {"layer":[
   {"data":{"values":[{"g":"hdr"}]},"mark":{"type":"text","fontSize":9.5,"align":"left","baseline":"middle"},"encoding":{"x":{"datum":-8.9,"type":"quantitative"},"y":{"field":"g","type":"nominal","scale":{"type":"point","domain":["hdr","low","high"],"range":[938.3,960],"padding":0},"axis":null},"text":{"value":"Number at risk"}}},
   {"data":{"values":[{"g":"low"},{"g":"high"}]},"mark":{"type":"text","fontSize":9.5,"align":"right","baseline":"middle","dx":-13},"encoding":{"x":{"datum":-8.9,"type":"quantitative"},"y":{"field":"g","type":"nominal"},"text":{"field":"g"},"color":{"condition":{"test":"datum.g=='high'","value":"#ff0000"},"value":"#000000"}}},
   {"data":{"name":"risk"},"transform":[{"filter":"datum.p=='I'"}],"mark":{"type":"text","fontSize":9.5,"align":"center","baseline":"middle"},"encoding":{"x":{"field":"t","type":"quantitative"},"y":{"field":"g","type":"nominal"},"text":{"field":"n"},"color":{"condition":{"test":"datum.g=='high'","value":"#ff0000"},"value":"#000000"}}}
  ]}
 ],"resolve":{"scale":{"y":"independent"},"axis":{"y":"independent"}}}
],
"resolve":{"scale":{"x":"independent","y":"independent","color":"independent"},"axis":{"x":"independent","y":"independent"},"legend":{"color":"independent"}}
}
